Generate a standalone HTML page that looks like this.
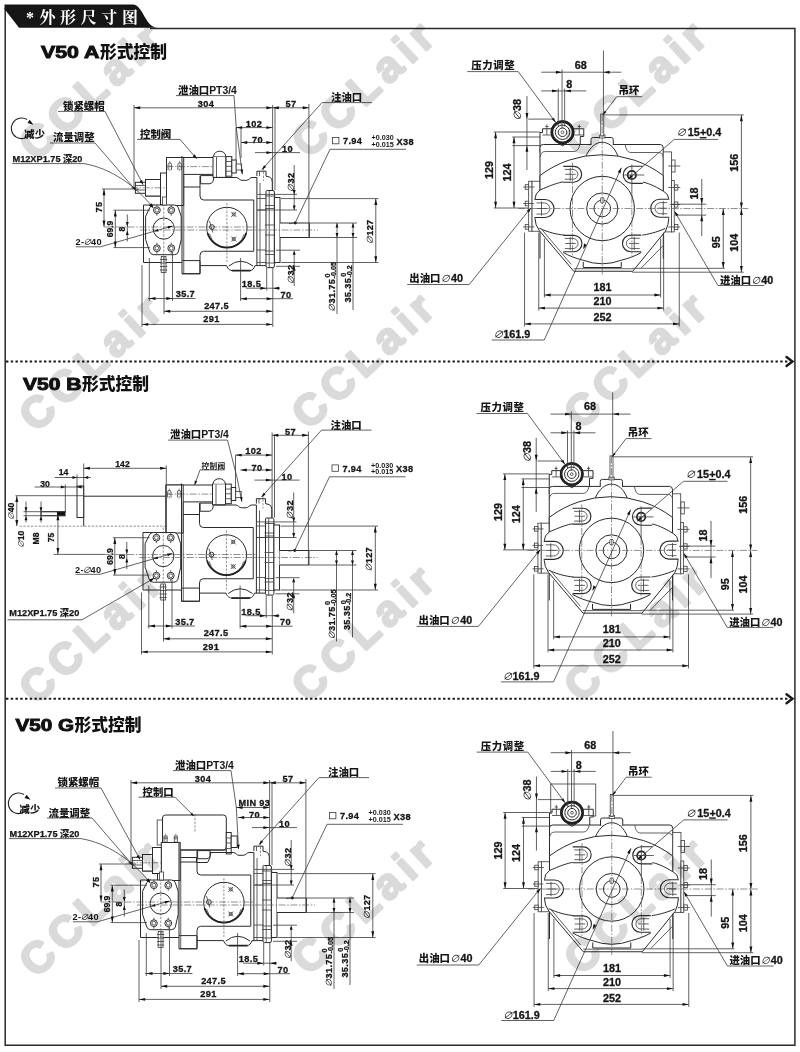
<!DOCTYPE html>
<html lang="zh"><head><meta charset="utf-8"><title>V50 外形尺寸图</title>
<style>
html,body{margin:0;padding:0;background:#fff}
body{width:800px;height:1052px;overflow:hidden}
svg{display:block}
svg text{font-family:"Liberation Sans","Noto Sans CJK SC",sans-serif}
.b{fill:none;stroke:#2a2a2a;stroke-width:1.5}
.tab{fill:#161616;stroke:none}
.hd{font-family:"Liberation Serif","Noto Serif CJK SC",serif;font-size:16px;font-weight:700;fill:#fff}
.wm{font-size:43.5px;font-weight:700;fill:#dadada;stroke:#dadada;stroke-width:2.4;stroke-linejoin:round;letter-spacing:6.4px;mix-blend-mode:multiply}
.dot{stroke:#1a1a1a;stroke-width:1.9;stroke-dasharray:2.4 2.35;fill:none}
.chev{fill:none;stroke:#1a1a1a;stroke-width:2.4;stroke-linecap:round;stroke-linejoin:miter}
.tt{font-size:16px;font-weight:700;fill:#111}
.tl{font-weight:700;stroke:#111;stroke-width:0.9}
.tc{font-family:"Liberation Sans","Noto Sans CJK SC",sans-serif;font-weight:900;font-size:16.8px}
.o{fill:none;stroke:#2b2b2b;stroke-width:1}
.ow{fill:#fff;stroke:#2b2b2b;stroke-width:1}
.k{fill:none;stroke:#222;stroke-width:2.6}
.t{fill:none;stroke:#444;stroke-width:0.85}
.tw{fill:#fff;stroke:#444;stroke-width:0.85}
.d{fill:none;stroke:#3a3a3a;stroke-width:0.8}
.c{fill:none;stroke:#555;stroke-width:0.65;stroke-dasharray:7 1.6 1.6 1.6}
.hid{fill:none;stroke:#555;stroke-width:0.65;stroke-dasharray:2.4 1.4}
.a{fill:#111;stroke:none}
.n{font-size:10.8px;font-weight:700;fill:#161616;stroke:#161616;stroke-width:.3px}
.ns{font-size:8.6px;font-weight:700;fill:#161616;stroke:#161616;stroke-width:.25px}
.z{font-size:10.4px;font-weight:900;fill:#161616}
.zs{font-size:8.4px;font-weight:700;fill:#161616}
.tol{font-size:7.2px;letter-spacing:0;font-weight:700;fill:#161616}
.k2{fill:#fff;stroke:#222;stroke-width:1.7}
.k1{fill:none;stroke:#222;stroke-width:1.7}
.rot{fill:none;stroke:#222;stroke-width:1.1}
.ni{font-weight:400;font-style:italic;stroke:none;font-size:.92em}
.m{font-size:9.2px;font-weight:700;fill:#161616;stroke:#161616;stroke-width:.25px}
.zss{font-size:7.7px;letter-spacing:.3px;font-weight:700;fill:#161616}
.er{stroke:#fff;stroke-width:2.2;fill:none}
.os{fill:#fff;stroke:#2b2b2b;stroke-width:1.15}
.n2{font-size:9.8px;font-weight:700;fill:#161616}
.sv .n{font-size:9.2px;letter-spacing:.35px}
.sv .n2{font-size:9.2px;letter-spacing:.3px}

</style></head>
<body>
<svg width="800" height="1052" viewBox="0 0 800 1052">
<rect width="800" height="1052" fill="#fff"/>
<path class="b" d="M5.2,8 V1045.3 H794.9 V28.5 H150"/>
<path class="tab" d="M4.5,4.5 H133 C143,4.5 145,27.8 158,27.8 H19 L4.5,9 Z"/>
<text class="hd" x="26" y="23">*</text>
<text class="hd" x="39.5" y="23">外</text>
<text class="hd" x="60.1" y="23">形</text>
<text class="hd" x="80.7" y="23">尺</text>
<text class="hd" x="101.3" y="23">寸</text>
<text class="hd" x="121.9" y="23">图</text>
<line class="dot" x1="6" y1="361.5" x2="790" y2="361.5"/>
<polyline class="chev" points="786.5,357 792.5,361.5 786.5,366"/>
<line class="dot" x1="6" y1="698.8" x2="790" y2="698.8"/>
<polyline class="chev" points="786.5,694.3 792.5,698.8 786.5,703.3"/>
<text class="tt" x="41" y="57.5"><tspan class="tl" textLength="58.5" lengthAdjust="spacingAndGlyphs">V50 A</tspan><tspan class="tc" dx="0.5">形式控制</tspan></text>
<text class="tt" x="23" y="390"><tspan class="tl" textLength="58.5" lengthAdjust="spacingAndGlyphs">V50 B</tspan><tspan class="tc" dx="0.5">形式控制</tspan></text>
<text class="tt" x="15.5" y="730.5"><tspan class="tl" textLength="58.5" lengthAdjust="spacingAndGlyphs">V50 G</tspan><tspan class="tc" dx="0.5">形式控制</tspan></text>
<g transform="translate(0 0)">
<path class="ow" d="M540,152.5 V132.5 H542.5 V128.75 H583.75 V136.5 H580.25 V146.5"/>
<line class="t" x1="546.85" y1="124.5" x2="546.85" y2="135"/>
<line class="t" x1="545.25" y1="126.5" x2="548.45" y2="126.5"/>
<line class="t" x1="579.25" y1="124.5" x2="579.25" y2="135"/>
<line class="t" x1="577.65" y1="126.5" x2="580.85" y2="126.5"/>
<line class="t" x1="542.5" y1="135" x2="551.25" y2="135"/>
<line class="t" x1="574.25" y1="135" x2="583.75" y2="135"/>
<path class="ow" d="M540,258.5 V147.5 Q540,144.5 543.25,144.5 H660.25 Q663.25,144.5 663.25,148 V258.5"/>
<path class="t" d="M540,157 Q540.75,151.5 545.25,151.5 H574.25 Q578.25,151.3 579.75,144.7"/>
<path class="t" d="M663.25,157 Q662.75,152.5 658.25,152.5 H630.25 Q626.25,152 625.25,144.7"/>
<path class="ow" d="M591,145 V139.5 Q591,137.5 593.25,137.5 H611.25 Q613.25,137.5 613.25,139.5 V145"/>
<path class="ow" d="M585.75,156.5 C590.25,146.5 596.25,142.25 602.25,142.25 C608.25,142.25 614.25,146.5 618.15,156.5 Z"/>
<rect class="tw" x="599.65" y="135" width="5.3" height="3"/>
<rect class="tw" x="600.75" y="114" width="3" height="22"/>
<rect class="tw" x="531.85" y="181.25" width="8.2" height="50"/>
<rect class="tw" x="528.65" y="181.25" width="3.2" height="50"/>
<rect class="tw" x="525.25" y="184.7" width="3.4" height="4.6"/>
<line class="t" x1="523.25" y1="187" x2="534.25" y2="187"/>
<rect class="tw" x="525.25" y="201.2" width="3.4" height="4.6"/>
<line class="t" x1="523.25" y1="203.5" x2="534.25" y2="203.5"/>
<rect class="tw" x="525.25" y="224.6" width="3.4" height="4.6"/>
<line class="t" x1="523.25" y1="226.9" x2="534.25" y2="226.9"/>
<rect class="tw" x="663.25" y="151.9" width="8.2" height="80"/>
<rect class="tw" x="671.45" y="180.5" width="2.8" height="51.4"/>
<rect class="tw" x="671.65" y="160" width="3.4" height="12"/>
<line class="t" x1="668.25" y1="166" x2="680.25" y2="166"/>
<rect class="tw" x="674.45" y="184.9" width="3.4" height="5.2"/>
<line class="t" x1="668.25" y1="187.5" x2="680.25" y2="187.5"/>
<rect class="tw" x="674.45" y="201.9" width="3.4" height="5.2"/>
<line class="t" x1="668.25" y1="204.5" x2="680.25" y2="204.5"/>
<rect class="tw" x="674.45" y="224.4" width="3.4" height="5.2"/>
<line class="t" x1="668.25" y1="227" x2="680.25" y2="227"/>
<path class="ow" d="M540,175.5 A102,102 0 0 1 663.25,175.5 L663.25,191 Q668.75,194 668.75,199 V218.5 Q668.75,224.5 665.55,231 L632.75,271.25 H573.75 L539.25,230.5 Q535,224.5 535,218.5 V199 Q535,193.5 540,190 Z"/>
<line class="er" x1="535" y1="200.1" x2="535" y2="216.9"/>
<line class="er" x1="668.75" y1="199.8" x2="668.75" y2="216.6"/>
<line class="t" x1="541.85" y1="229.5" x2="571.25" y2="264.5"/>
<line class="t" x1="663.25" y1="245.5" x2="641.25" y2="268"/>
<line class="t" x1="573.75" y1="268.7" x2="632.75" y2="268.7"/>
<path class="o" d="M540,190 C550.25,185.5 558.25,182.5 564.25,181.7"/>
<path class="o" d="M663.25,191.2 C654.25,185.5 646.25,182.5 642.25,182"/>
<path class="o" d="M539.25,228.1 C548.25,232.5 557.25,234.5 564.25,235.1"/>
<path class="o" d="M665.25,228.5 C656.25,232.5 647.25,234.5 642.25,235.1"/>
<path class="o" d="M563.25,252.5 C569.25,256 576.25,258.5 582.5,260 A55.2,55.2 0 0 0 622,260 C628.25,258.5 635.25,256 641.25,252.5"/>
<path class="o" d="M583.25,262 V267.5 H621.25 V262"/>
<circle class="o" cx="602.25" cy="208.5" r="32.2"/>
<circle class="o" cx="602.25" cy="208.5" r="15.6"/>
<circle class="o" cx="602.25" cy="208.5" r="8.3"/>
<rect class="tw" x="600.55" y="197.5" width="3.4" height="5.5" rx="1.2"/>
<path class="os" d="M535,199.5 H545 A9,9 0 0 1 545,217.5 H535"/>
<path class="t" d="M536.5,202.92 H544.2 A5.58,5.58 0 0 1 544.2,214.08 H536.5"/>
<line class="t" x1="537" y1="208.5" x2="547" y2="208.5"/>
<line class="t" x1="541.5" y1="201.42" x2="541.5" y2="215.58"/>
<path class="os" d="M668.75,199.2 H659.75 A9,9 0 0 0 659.75,217.2 H668.75"/>
<path class="t" d="M667.25,202.62 H660.55 A5.58,5.58 0 0 0 660.55,213.78 H667.25"/>
<line class="t" x1="666.75" y1="208.2" x2="657.75" y2="208.2"/>
<line class="t" x1="663.25" y1="201.12" x2="663.25" y2="215.28"/>
<path class="os" d="M563.25,166.4 H573.75 A7.9,7.9 0 0 1 573.75,182.2 H563.25"/>
<path class="t" d="M564.75,169.4 H572.95 A4.9,4.9 0 0 1 572.95,179.2 H564.75"/>
<line class="t" x1="565.25" y1="174.3" x2="575.75" y2="174.3"/>
<line class="t" x1="570.25" y1="167.9" x2="570.25" y2="180.7"/>
<path class="os" d="M563.25,235.3 H573.75 A8.2,8.2 0 0 1 573.75,251.7 H563.25"/>
<path class="t" d="M564.75,238.42 H572.95 A5.08,5.08 0 0 1 572.95,248.58 H564.75"/>
<line class="t" x1="565.25" y1="243.5" x2="575.75" y2="243.5"/>
<line class="t" x1="570.25" y1="236.92" x2="570.25" y2="250.08"/>
<path class="os" d="M641.25,235.1 H630.75 A8.3,8.3 0 0 0 630.75,251.7 H641.25"/>
<path class="t" d="M639.75,238.25 H631.55 A5.15,5.15 0 0 0 631.55,248.55 H639.75"/>
<line class="t" x1="639.25" y1="243.4" x2="628.75" y2="243.4"/>
<line class="t" x1="634.25" y1="236.75" x2="634.25" y2="250.05"/>
<path class="os" d="M642.85,166.2 H631.85 A8.6,8.6 0 0 0 631.85,183.4 H642.85"/>
<circle class="k2" cx="631.85" cy="175" r="4.2"/>
<line class="t" x1="624.25" y1="175" x2="644.25" y2="175"/>
<line class="t" x1="631.85" y1="164.5" x2="631.85" y2="196.5"/>
<line class="c" x1="572.5" y1="162.5" x2="572.5" y2="256.5"/>
<line class="c" x1="631.85" y1="196.5" x2="631.85" y2="256.5"/>
<circle class="ow" cx="562.5" cy="132.25" r="11.4"/>
<circle class="k" cx="562.5" cy="132.25" r="10.6"/>
<circle class="o" cx="562.5" cy="132.25" r="7.2"/>
<circle class="o" cx="562.5" cy="132.25" r="4.3"/>
<circle class="t" cx="562.5" cy="132.25" r="1.4"/>
<polyline class="o" points="558.5,143.45 562.5,145.85 566.5,143.45"/>
<line class="c" x1="518.25" y1="208.5" x2="748.25" y2="208.5"/>
<line class="c" x1="602.25" y1="114.5" x2="602.25" y2="274.5"/>
<line class="d" x1="603.45" y1="50.5" x2="603.45" y2="114"/>
<line class="d" x1="541.25" y1="72.2" x2="621.25" y2="72.2"/>
<polygon class="a" points="562.05,72.2 555.85,73.65 555.85,70.75"/>
<polygon class="a" points="603.45,72.2 609.65,70.75 609.65,73.65"/>
<text class="n" x="580.75" y="68.5" text-anchor="middle">68</text>
<line class="d" x1="562.05" y1="69.5" x2="562.05" y2="128.5"/>
<line class="d" x1="541.25" y1="90.9" x2="586.25" y2="90.9"/>
<polygon class="a" points="558.25,90.9 552.05,92.35 552.05,89.45"/>
<polygon class="a" points="564.65,90.9 570.85,89.45 570.85,92.35"/>
<text class="n" x="569.25" y="88.2" text-anchor="middle">8</text>
<line class="d" x1="558.25" y1="88.5" x2="558.25" y2="126.5"/>
<line class="d" x1="564.65" y1="88.5" x2="564.65" y2="126.5"/>
<text class="z" x="618.55" y="94.2">吊环</text>
<polyline class="d" points="642.25,96.7 616.75,96.7 602.85,115"/>
<polygon class="a" points="602.85,115 604.7,110.75 606.45,112.08"/>
<line class="d" x1="603.75" y1="114.9" x2="743.75" y2="114.9"/>
<line class="d" x1="741.4" y1="115" x2="741.4" y2="208.7"/>
<polygon class="a" points="741.4,115 742.85,121.2 739.95,121.2"/>
<polygon class="a" points="741.4,208.7 739.95,202.5 742.85,202.5"/>
<text class="n" x="737.85" y="162.8" text-anchor="middle" transform="rotate(-90 737.85 162.8)">156</text>
<line class="d" x1="741.4" y1="208.8" x2="741.4" y2="272.2"/>
<polygon class="a" points="741.4,208.8 742.85,215 739.95,215"/>
<polygon class="a" points="741.4,272.2 739.95,266 742.85,266"/>
<text class="n" x="737.85" y="242.7" text-anchor="middle" transform="rotate(-90 737.85 242.7)">104</text>
<line class="d" x1="723.25" y1="208.8" x2="723.25" y2="268.3"/>
<polygon class="a" points="723.25,208.8 724.7,215 721.8,215"/>
<polygon class="a" points="723.25,268.3 721.8,262.1 724.7,262.1"/>
<text class="n" x="719.75" y="242.3" text-anchor="middle" transform="rotate(-90 719.75 242.3)">95</text>
<line class="d" x1="632.25" y1="268.3" x2="724.75" y2="268.3"/>
<line class="d" x1="632.25" y1="272.2" x2="743.75" y2="272.2"/>
<line class="d" x1="701.75" y1="179" x2="701.75" y2="236"/>
<polygon class="a" points="701.75,204.2 700.3,198 703.2,198"/>
<polygon class="a" points="701.75,215.1 703.2,221.3 700.3,221.3"/>
<line class="d" x1="672.25" y1="204.2" x2="706.25" y2="204.2"/>
<line class="d" x1="676.25" y1="215.1" x2="706.25" y2="215.1"/>
<text class="n" x="697.85" y="193.6" text-anchor="middle" transform="rotate(-90 697.85 193.6)">18</text>
<text class="n" x="676.25" y="136.1"><tspan class="ni">∅</tspan><tspan dx="1.5">15</tspan><tspan dx="0.3" style="text-decoration:underline">+</tspan>0.4</text>
<polyline class="d" points="718.25,139.4 674.25,139.4 627.75,179.5"/>
<polygon class="a" points="628.05,179.2 630.86,174.8 632.82,177.07"/>
<text class="z" x="719.95" y="283.8">进油口<tspan class="n ni">∅</tspan><tspan class="n" dx="0.5">40</tspan></text>
<polyline class="d" points="764.25,285.5 717.95,285.5 674.75,211.7"/>
<polygon class="a" points="674.55,211.3 678.37,214.86 675.78,216.37"/>
<text class="z" x="409.25" y="281.9">出油口<tspan class="n ni">∅</tspan><tspan class="n" dx="1">40</tspan></text>
<polyline class="d" points="407.25,284.5 469.25,284.5 530.75,208"/>
<polygon class="a" points="531.05,207.7 529.08,212.54 526.75,210.66"/>
<text class="z" x="471.25" y="69.3" style="letter-spacing:.6px">压力调整</text>
<polyline class="d" points="467.25,71.6 518.25,71.6 555.75,122.5"/>
<polygon class="a" points="555.75,122.5 551.66,119.3 553.91,117.64"/>
<line class="d" x1="526.95" y1="96" x2="526.95" y2="170"/>
<polygon class="a" points="526.95,119.1 525.5,112.9 528.4,112.9"/>
<polygon class="a" points="526.95,145.6 528.4,151.8 525.5,151.8"/>
<line class="d" x1="528.25" y1="119.1" x2="554.25" y2="119.1"/>
<line class="d" x1="512.25" y1="145.6" x2="540.25" y2="145.6"/>
<text class="n" x="521.25" y="110" text-anchor="middle" transform="rotate(-90 521.25 110)"><tspan class="ni">∅</tspan>38</text>
<line class="d" x1="495.6" y1="132" x2="495.6" y2="208"/>
<polygon class="a" points="495.6,132 497.05,138.2 494.15,138.2"/>
<polygon class="a" points="495.6,208 494.15,201.8 497.05,201.8"/>
<text class="n" x="492.65" y="170" text-anchor="middle" transform="rotate(-90 492.65 170)">129</text>
<line class="d" x1="514" y1="137" x2="514" y2="208"/>
<polygon class="a" points="514,137 515.45,143.2 512.55,143.2"/>
<polygon class="a" points="514,208 512.55,201.8 515.45,201.8"/>
<text class="n" x="510.65" y="172.4" text-anchor="middle" transform="rotate(-90 510.65 172.4)">124</text>
<line class="d" x1="493.75" y1="132" x2="540.25" y2="132"/>
<line class="d" x1="512.25" y1="137" x2="540.25" y2="137"/>
<line class="d" x1="493.75" y1="208" x2="528.25" y2="208"/>
<line class="d" x1="544.4" y1="295" x2="660.6" y2="295"/>
<polygon class="a" points="544.4,295 550.6,293.55 550.6,296.45"/>
<polygon class="a" points="660.6,295 654.4,296.45 654.4,293.55"/>
<text class="n" x="602.45" y="291.2" text-anchor="middle">181</text>
<line class="d" x1="538.75" y1="308.1" x2="663.65" y2="308.1"/>
<polygon class="a" points="538.75,308.1 544.95,306.65 544.95,309.55"/>
<polygon class="a" points="663.65,308.1 657.45,309.55 657.45,306.65"/>
<text class="n" x="602.45" y="305.1" text-anchor="middle">210</text>
<line class="d" x1="524.55" y1="323.9" x2="679.25" y2="323.9"/>
<polygon class="a" points="524.55,323.9 530.75,322.45 530.75,325.35"/>
<polygon class="a" points="679.25,323.9 673.05,325.35 673.05,322.45"/>
<text class="n" x="602.45" y="321.2" text-anchor="middle">252</text>
<line class="d" x1="544.4" y1="238.5" x2="544.4" y2="297.5"/>
<line class="d" x1="660.6" y1="238.5" x2="660.6" y2="297.5"/>
<line class="d" x1="538.75" y1="232.5" x2="538.75" y2="310.5"/>
<line class="d" x1="663.65" y1="232.5" x2="663.65" y2="310.5"/>
<line class="d" x1="524.55" y1="232.5" x2="524.55" y2="326.5"/>
<line class="d" x1="679.25" y1="232.5" x2="679.25" y2="326.5"/>
<text class="n" x="493.25" y="338.2"><tspan class="ni">∅</tspan>161.9</text>
<polyline class="d" points="491.75,340 544.25,340 621.41,167.78"/>
<polygon class="a" points="621.41,167.78 620.43,173.4 617.71,172.12"/>
<polygon class="a" points="583.09,249.22 584.07,243.6 586.79,244.88"/>
</g>
<g transform="translate(9.25 341.9)">
<path class="ow" d="M540,152.5 V132.5 H542.5 V128.75 H583.75 V136.5 H580.25 V146.5"/>
<line class="t" x1="546.85" y1="124.5" x2="546.85" y2="135"/>
<line class="t" x1="545.25" y1="126.5" x2="548.45" y2="126.5"/>
<line class="t" x1="579.25" y1="124.5" x2="579.25" y2="135"/>
<line class="t" x1="577.65" y1="126.5" x2="580.85" y2="126.5"/>
<line class="t" x1="542.5" y1="135" x2="551.25" y2="135"/>
<line class="t" x1="574.25" y1="135" x2="583.75" y2="135"/>
<path class="ow" d="M540,258.5 V147.5 Q540,144.5 543.25,144.5 H660.25 Q663.25,144.5 663.25,148 V258.5"/>
<path class="t" d="M540,157 Q540.75,151.5 545.25,151.5 H574.25 Q578.25,151.3 579.75,144.7"/>
<path class="t" d="M663.25,157 Q662.75,152.5 658.25,152.5 H630.25 Q626.25,152 625.25,144.7"/>
<path class="ow" d="M591,145 V139.5 Q591,137.5 593.25,137.5 H611.25 Q613.25,137.5 613.25,139.5 V145"/>
<path class="ow" d="M585.75,156.5 C590.25,146.5 596.25,142.25 602.25,142.25 C608.25,142.25 614.25,146.5 618.15,156.5 Z"/>
<rect class="tw" x="599.65" y="135" width="5.3" height="3"/>
<rect class="tw" x="600.75" y="114" width="3" height="22"/>
<rect class="tw" x="531.85" y="181.25" width="8.2" height="50"/>
<rect class="tw" x="528.65" y="181.25" width="3.2" height="50"/>
<rect class="tw" x="525.25" y="184.7" width="3.4" height="4.6"/>
<line class="t" x1="523.25" y1="187" x2="534.25" y2="187"/>
<rect class="tw" x="525.25" y="201.2" width="3.4" height="4.6"/>
<line class="t" x1="523.25" y1="203.5" x2="534.25" y2="203.5"/>
<rect class="tw" x="525.25" y="224.6" width="3.4" height="4.6"/>
<line class="t" x1="523.25" y1="226.9" x2="534.25" y2="226.9"/>
<rect class="tw" x="663.25" y="151.9" width="8.2" height="80"/>
<rect class="tw" x="671.45" y="180.5" width="2.8" height="51.4"/>
<rect class="tw" x="671.65" y="160" width="3.4" height="12"/>
<line class="t" x1="668.25" y1="166" x2="680.25" y2="166"/>
<rect class="tw" x="674.45" y="184.9" width="3.4" height="5.2"/>
<line class="t" x1="668.25" y1="187.5" x2="680.25" y2="187.5"/>
<rect class="tw" x="674.45" y="201.9" width="3.4" height="5.2"/>
<line class="t" x1="668.25" y1="204.5" x2="680.25" y2="204.5"/>
<rect class="tw" x="674.45" y="224.4" width="3.4" height="5.2"/>
<line class="t" x1="668.25" y1="227" x2="680.25" y2="227"/>
<path class="ow" d="M540,175.5 A102,102 0 0 1 663.25,175.5 L663.25,191 Q668.75,194 668.75,199 V218.5 Q668.75,224.5 665.55,231 L632.75,271.25 H573.75 L539.25,230.5 Q535,224.5 535,218.5 V199 Q535,193.5 540,190 Z"/>
<line class="er" x1="535" y1="200.1" x2="535" y2="216.9"/>
<line class="er" x1="668.75" y1="199.8" x2="668.75" y2="216.6"/>
<line class="t" x1="541.85" y1="229.5" x2="571.25" y2="264.5"/>
<line class="t" x1="663.25" y1="245.5" x2="641.25" y2="268"/>
<line class="t" x1="573.75" y1="268.7" x2="632.75" y2="268.7"/>
<path class="o" d="M540,190 C550.25,185.5 558.25,182.5 564.25,181.7"/>
<path class="o" d="M663.25,191.2 C654.25,185.5 646.25,182.5 642.25,182"/>
<path class="o" d="M539.25,228.1 C548.25,232.5 557.25,234.5 564.25,235.1"/>
<path class="o" d="M665.25,228.5 C656.25,232.5 647.25,234.5 642.25,235.1"/>
<path class="o" d="M563.25,252.5 C569.25,256 576.25,258.5 582.5,260 A55.2,55.2 0 0 0 622,260 C628.25,258.5 635.25,256 641.25,252.5"/>
<path class="o" d="M583.25,262 V267.5 H621.25 V262"/>
<circle class="o" cx="602.25" cy="208.5" r="32.2"/>
<circle class="o" cx="602.25" cy="208.5" r="15.6"/>
<circle class="o" cx="602.25" cy="208.5" r="8.3"/>
<rect class="tw" x="600.55" y="197.5" width="3.4" height="5.5" rx="1.2"/>
<path class="os" d="M535,199.5 H545 A9,9 0 0 1 545,217.5 H535"/>
<path class="t" d="M536.5,202.92 H544.2 A5.58,5.58 0 0 1 544.2,214.08 H536.5"/>
<line class="t" x1="537" y1="208.5" x2="547" y2="208.5"/>
<line class="t" x1="541.5" y1="201.42" x2="541.5" y2="215.58"/>
<path class="os" d="M668.75,199.2 H659.75 A9,9 0 0 0 659.75,217.2 H668.75"/>
<path class="t" d="M667.25,202.62 H660.55 A5.58,5.58 0 0 0 660.55,213.78 H667.25"/>
<line class="t" x1="666.75" y1="208.2" x2="657.75" y2="208.2"/>
<line class="t" x1="663.25" y1="201.12" x2="663.25" y2="215.28"/>
<path class="os" d="M563.25,166.4 H573.75 A7.9,7.9 0 0 1 573.75,182.2 H563.25"/>
<path class="t" d="M564.75,169.4 H572.95 A4.9,4.9 0 0 1 572.95,179.2 H564.75"/>
<line class="t" x1="565.25" y1="174.3" x2="575.75" y2="174.3"/>
<line class="t" x1="570.25" y1="167.9" x2="570.25" y2="180.7"/>
<path class="os" d="M563.25,235.3 H573.75 A8.2,8.2 0 0 1 573.75,251.7 H563.25"/>
<path class="t" d="M564.75,238.42 H572.95 A5.08,5.08 0 0 1 572.95,248.58 H564.75"/>
<line class="t" x1="565.25" y1="243.5" x2="575.75" y2="243.5"/>
<line class="t" x1="570.25" y1="236.92" x2="570.25" y2="250.08"/>
<path class="os" d="M641.25,235.1 H630.75 A8.3,8.3 0 0 0 630.75,251.7 H641.25"/>
<path class="t" d="M639.75,238.25 H631.55 A5.15,5.15 0 0 0 631.55,248.55 H639.75"/>
<line class="t" x1="639.25" y1="243.4" x2="628.75" y2="243.4"/>
<line class="t" x1="634.25" y1="236.75" x2="634.25" y2="250.05"/>
<path class="os" d="M642.85,166.2 H631.85 A8.6,8.6 0 0 0 631.85,183.4 H642.85"/>
<circle class="k2" cx="631.85" cy="175" r="4.2"/>
<line class="t" x1="624.25" y1="175" x2="644.25" y2="175"/>
<line class="t" x1="631.85" y1="164.5" x2="631.85" y2="196.5"/>
<line class="c" x1="572.5" y1="162.5" x2="572.5" y2="256.5"/>
<line class="c" x1="631.85" y1="196.5" x2="631.85" y2="256.5"/>
<circle class="ow" cx="562.5" cy="132.25" r="11.4"/>
<circle class="k" cx="562.5" cy="132.25" r="10.6"/>
<circle class="o" cx="562.5" cy="132.25" r="7.2"/>
<circle class="o" cx="562.5" cy="132.25" r="4.3"/>
<circle class="t" cx="562.5" cy="132.25" r="1.4"/>
<polyline class="o" points="558.5,143.45 562.5,145.85 566.5,143.45"/>
<line class="c" x1="518.25" y1="208.5" x2="748.25" y2="208.5"/>
<line class="c" x1="602.25" y1="114.5" x2="602.25" y2="274.5"/>
<line class="d" x1="603.45" y1="50.5" x2="603.45" y2="114"/>
<line class="d" x1="541.25" y1="72.2" x2="621.25" y2="72.2"/>
<polygon class="a" points="562.05,72.2 555.85,73.65 555.85,70.75"/>
<polygon class="a" points="603.45,72.2 609.65,70.75 609.65,73.65"/>
<text class="n" x="580.75" y="68.5" text-anchor="middle">68</text>
<line class="d" x1="562.05" y1="69.5" x2="562.05" y2="128.5"/>
<line class="d" x1="541.25" y1="90.9" x2="586.25" y2="90.9"/>
<polygon class="a" points="558.25,90.9 552.05,92.35 552.05,89.45"/>
<polygon class="a" points="564.65,90.9 570.85,89.45 570.85,92.35"/>
<text class="n" x="569.25" y="88.2" text-anchor="middle">8</text>
<line class="d" x1="558.25" y1="88.5" x2="558.25" y2="126.5"/>
<line class="d" x1="564.65" y1="88.5" x2="564.65" y2="126.5"/>
<text class="z" x="618.55" y="94.2">吊环</text>
<polyline class="d" points="642.25,96.7 616.75,96.7 602.85,115"/>
<polygon class="a" points="602.85,115 604.7,110.75 606.45,112.08"/>
<line class="d" x1="603.75" y1="114.9" x2="743.75" y2="114.9"/>
<line class="d" x1="741.4" y1="115" x2="741.4" y2="208.7"/>
<polygon class="a" points="741.4,115 742.85,121.2 739.95,121.2"/>
<polygon class="a" points="741.4,208.7 739.95,202.5 742.85,202.5"/>
<text class="n" x="737.85" y="162.8" text-anchor="middle" transform="rotate(-90 737.85 162.8)">156</text>
<line class="d" x1="741.4" y1="208.8" x2="741.4" y2="272.2"/>
<polygon class="a" points="741.4,208.8 742.85,215 739.95,215"/>
<polygon class="a" points="741.4,272.2 739.95,266 742.85,266"/>
<text class="n" x="737.85" y="242.7" text-anchor="middle" transform="rotate(-90 737.85 242.7)">104</text>
<line class="d" x1="723.25" y1="208.8" x2="723.25" y2="268.3"/>
<polygon class="a" points="723.25,208.8 724.7,215 721.8,215"/>
<polygon class="a" points="723.25,268.3 721.8,262.1 724.7,262.1"/>
<text class="n" x="719.75" y="242.3" text-anchor="middle" transform="rotate(-90 719.75 242.3)">95</text>
<line class="d" x1="632.25" y1="268.3" x2="724.75" y2="268.3"/>
<line class="d" x1="632.25" y1="272.2" x2="743.75" y2="272.2"/>
<line class="d" x1="701.75" y1="179" x2="701.75" y2="236"/>
<polygon class="a" points="701.75,204.2 700.3,198 703.2,198"/>
<polygon class="a" points="701.75,215.1 703.2,221.3 700.3,221.3"/>
<line class="d" x1="672.25" y1="204.2" x2="706.25" y2="204.2"/>
<line class="d" x1="676.25" y1="215.1" x2="706.25" y2="215.1"/>
<text class="n" x="697.85" y="193.6" text-anchor="middle" transform="rotate(-90 697.85 193.6)">18</text>
<text class="n" x="676.25" y="136.1"><tspan class="ni">∅</tspan><tspan dx="1.5">15</tspan><tspan dx="0.3" style="text-decoration:underline">+</tspan>0.4</text>
<polyline class="d" points="718.25,139.4 674.25,139.4 627.75,179.5"/>
<polygon class="a" points="628.05,179.2 630.86,174.8 632.82,177.07"/>
<text class="z" x="719.95" y="283.8">进油口<tspan class="n ni">∅</tspan><tspan class="n" dx="0.5">40</tspan></text>
<polyline class="d" points="764.25,285.5 717.95,285.5 674.75,211.7"/>
<polygon class="a" points="674.55,211.3 678.37,214.86 675.78,216.37"/>
<text class="z" x="409.25" y="281.9">出油口<tspan class="n ni">∅</tspan><tspan class="n" dx="1">40</tspan></text>
<polyline class="d" points="407.25,284.5 469.25,284.5 530.75,208"/>
<polygon class="a" points="531.05,207.7 529.08,212.54 526.75,210.66"/>
<text class="z" x="471.25" y="69.3" style="letter-spacing:.6px">压力调整</text>
<polyline class="d" points="467.25,71.6 518.25,71.6 555.75,122.5"/>
<polygon class="a" points="555.75,122.5 551.66,119.3 553.91,117.64"/>
<line class="d" x1="526.95" y1="96" x2="526.95" y2="170"/>
<polygon class="a" points="526.95,119.1 525.5,112.9 528.4,112.9"/>
<polygon class="a" points="526.95,145.6 528.4,151.8 525.5,151.8"/>
<line class="d" x1="528.25" y1="119.1" x2="554.25" y2="119.1"/>
<line class="d" x1="512.25" y1="145.6" x2="540.25" y2="145.6"/>
<text class="n" x="521.25" y="110" text-anchor="middle" transform="rotate(-90 521.25 110)"><tspan class="ni">∅</tspan>38</text>
<line class="d" x1="495.6" y1="132" x2="495.6" y2="208"/>
<polygon class="a" points="495.6,132 497.05,138.2 494.15,138.2"/>
<polygon class="a" points="495.6,208 494.15,201.8 497.05,201.8"/>
<text class="n" x="492.65" y="170" text-anchor="middle" transform="rotate(-90 492.65 170)">129</text>
<line class="d" x1="514" y1="137" x2="514" y2="208"/>
<polygon class="a" points="514,137 515.45,143.2 512.55,143.2"/>
<polygon class="a" points="514,208 512.55,201.8 515.45,201.8"/>
<text class="n" x="510.65" y="172.4" text-anchor="middle" transform="rotate(-90 510.65 172.4)">124</text>
<line class="d" x1="493.75" y1="132" x2="540.25" y2="132"/>
<line class="d" x1="512.25" y1="137" x2="540.25" y2="137"/>
<line class="d" x1="493.75" y1="208" x2="528.25" y2="208"/>
<line class="d" x1="544.4" y1="295" x2="660.6" y2="295"/>
<polygon class="a" points="544.4,295 550.6,293.55 550.6,296.45"/>
<polygon class="a" points="660.6,295 654.4,296.45 654.4,293.55"/>
<text class="n" x="602.45" y="291.2" text-anchor="middle">181</text>
<line class="d" x1="538.75" y1="308.1" x2="663.65" y2="308.1"/>
<polygon class="a" points="538.75,308.1 544.95,306.65 544.95,309.55"/>
<polygon class="a" points="663.65,308.1 657.45,309.55 657.45,306.65"/>
<text class="n" x="602.45" y="305.1" text-anchor="middle">210</text>
<line class="d" x1="524.55" y1="323.9" x2="679.25" y2="323.9"/>
<polygon class="a" points="524.55,323.9 530.75,322.45 530.75,325.35"/>
<polygon class="a" points="679.25,323.9 673.05,325.35 673.05,322.45"/>
<text class="n" x="602.45" y="321.2" text-anchor="middle">252</text>
<line class="d" x1="544.4" y1="238.5" x2="544.4" y2="297.5"/>
<line class="d" x1="660.6" y1="238.5" x2="660.6" y2="297.5"/>
<line class="d" x1="538.75" y1="232.5" x2="538.75" y2="310.5"/>
<line class="d" x1="663.65" y1="232.5" x2="663.65" y2="310.5"/>
<line class="d" x1="524.55" y1="232.5" x2="524.55" y2="326.5"/>
<line class="d" x1="679.25" y1="232.5" x2="679.25" y2="326.5"/>
<text class="n" x="493.25" y="338.2"><tspan class="ni">∅</tspan>161.9</text>
<polyline class="d" points="491.75,340 544.25,340 621.41,167.78"/>
<polygon class="a" points="621.41,167.78 620.43,173.4 617.71,172.12"/>
<polygon class="a" points="583.09,249.22 584.07,243.6 586.79,244.88"/>
</g>
<g transform="translate(9.5 680.5)">
<rect class="tw" x="541.25" y="103.5" width="45" height="32"/>
<path class="ow" d="M540,152.5 V132.5 H542.5 V128.75 H583.75 V136.5 H580.25 V146.5"/>
<line class="t" x1="546.85" y1="124.5" x2="546.85" y2="135"/>
<line class="t" x1="545.25" y1="126.5" x2="548.45" y2="126.5"/>
<line class="t" x1="579.25" y1="124.5" x2="579.25" y2="135"/>
<line class="t" x1="577.65" y1="126.5" x2="580.85" y2="126.5"/>
<line class="t" x1="542.5" y1="135" x2="551.25" y2="135"/>
<line class="t" x1="574.25" y1="135" x2="583.75" y2="135"/>
<path class="ow" d="M540,258.5 V147.5 Q540,144.5 543.25,144.5 H660.25 Q663.25,144.5 663.25,148 V258.5"/>
<path class="t" d="M540,157 Q540.75,151.5 545.25,151.5 H574.25 Q578.25,151.3 579.75,144.7"/>
<path class="t" d="M663.25,157 Q662.75,152.5 658.25,152.5 H630.25 Q626.25,152 625.25,144.7"/>
<path class="ow" d="M591,145 V139.5 Q591,137.5 593.25,137.5 H611.25 Q613.25,137.5 613.25,139.5 V145"/>
<path class="ow" d="M585.75,156.5 C590.25,146.5 596.25,142.25 602.25,142.25 C608.25,142.25 614.25,146.5 618.15,156.5 Z"/>
<rect class="tw" x="599.65" y="135" width="5.3" height="3"/>
<rect class="tw" x="600.75" y="114" width="3" height="22"/>
<rect class="tw" x="531.85" y="181.25" width="8.2" height="50"/>
<rect class="tw" x="528.65" y="181.25" width="3.2" height="50"/>
<rect class="tw" x="525.25" y="184.7" width="3.4" height="4.6"/>
<line class="t" x1="523.25" y1="187" x2="534.25" y2="187"/>
<rect class="tw" x="525.25" y="201.2" width="3.4" height="4.6"/>
<line class="t" x1="523.25" y1="203.5" x2="534.25" y2="203.5"/>
<rect class="tw" x="525.25" y="224.6" width="3.4" height="4.6"/>
<line class="t" x1="523.25" y1="226.9" x2="534.25" y2="226.9"/>
<rect class="tw" x="663.25" y="151.9" width="8.2" height="80"/>
<rect class="tw" x="671.45" y="180.5" width="2.8" height="51.4"/>
<rect class="tw" x="671.65" y="160" width="3.4" height="12"/>
<line class="t" x1="668.25" y1="166" x2="680.25" y2="166"/>
<rect class="tw" x="674.45" y="184.9" width="3.4" height="5.2"/>
<line class="t" x1="668.25" y1="187.5" x2="680.25" y2="187.5"/>
<rect class="tw" x="674.45" y="201.9" width="3.4" height="5.2"/>
<line class="t" x1="668.25" y1="204.5" x2="680.25" y2="204.5"/>
<rect class="tw" x="674.45" y="224.4" width="3.4" height="5.2"/>
<line class="t" x1="668.25" y1="227" x2="680.25" y2="227"/>
<path class="ow" d="M540,175.5 A102,102 0 0 1 663.25,175.5 L663.25,191 Q668.75,194 668.75,199 V218.5 Q668.75,224.5 665.55,231 L632.75,271.25 H573.75 L539.25,230.5 Q535,224.5 535,218.5 V199 Q535,193.5 540,190 Z"/>
<line class="er" x1="535" y1="200.1" x2="535" y2="216.9"/>
<line class="er" x1="668.75" y1="199.8" x2="668.75" y2="216.6"/>
<line class="t" x1="541.85" y1="229.5" x2="571.25" y2="264.5"/>
<line class="t" x1="663.25" y1="245.5" x2="641.25" y2="268"/>
<line class="t" x1="573.75" y1="268.7" x2="632.75" y2="268.7"/>
<path class="o" d="M540,190 C550.25,185.5 558.25,182.5 564.25,181.7"/>
<path class="o" d="M663.25,191.2 C654.25,185.5 646.25,182.5 642.25,182"/>
<path class="o" d="M539.25,228.1 C548.25,232.5 557.25,234.5 564.25,235.1"/>
<path class="o" d="M665.25,228.5 C656.25,232.5 647.25,234.5 642.25,235.1"/>
<path class="o" d="M563.25,252.5 C569.25,256 576.25,258.5 582.5,260 A55.2,55.2 0 0 0 622,260 C628.25,258.5 635.25,256 641.25,252.5"/>
<path class="o" d="M583.25,262 V267.5 H621.25 V262"/>
<circle class="o" cx="602.25" cy="208.5" r="32.2"/>
<circle class="o" cx="602.25" cy="208.5" r="15.6"/>
<circle class="o" cx="602.25" cy="208.5" r="8.3"/>
<rect class="tw" x="600.55" y="197.5" width="3.4" height="5.5" rx="1.2"/>
<path class="os" d="M535,199.5 H545 A9,9 0 0 1 545,217.5 H535"/>
<path class="t" d="M536.5,202.92 H544.2 A5.58,5.58 0 0 1 544.2,214.08 H536.5"/>
<line class="t" x1="537" y1="208.5" x2="547" y2="208.5"/>
<line class="t" x1="541.5" y1="201.42" x2="541.5" y2="215.58"/>
<path class="os" d="M668.75,199.2 H659.75 A9,9 0 0 0 659.75,217.2 H668.75"/>
<path class="t" d="M667.25,202.62 H660.55 A5.58,5.58 0 0 0 660.55,213.78 H667.25"/>
<line class="t" x1="666.75" y1="208.2" x2="657.75" y2="208.2"/>
<line class="t" x1="663.25" y1="201.12" x2="663.25" y2="215.28"/>
<path class="os" d="M563.25,166.4 H573.75 A7.9,7.9 0 0 1 573.75,182.2 H563.25"/>
<path class="t" d="M564.75,169.4 H572.95 A4.9,4.9 0 0 1 572.95,179.2 H564.75"/>
<line class="t" x1="565.25" y1="174.3" x2="575.75" y2="174.3"/>
<line class="t" x1="570.25" y1="167.9" x2="570.25" y2="180.7"/>
<path class="os" d="M563.25,235.3 H573.75 A8.2,8.2 0 0 1 573.75,251.7 H563.25"/>
<path class="t" d="M564.75,238.42 H572.95 A5.08,5.08 0 0 1 572.95,248.58 H564.75"/>
<line class="t" x1="565.25" y1="243.5" x2="575.75" y2="243.5"/>
<line class="t" x1="570.25" y1="236.92" x2="570.25" y2="250.08"/>
<path class="os" d="M641.25,235.1 H630.75 A8.3,8.3 0 0 0 630.75,251.7 H641.25"/>
<path class="t" d="M639.75,238.25 H631.55 A5.15,5.15 0 0 0 631.55,248.55 H639.75"/>
<line class="t" x1="639.25" y1="243.4" x2="628.75" y2="243.4"/>
<line class="t" x1="634.25" y1="236.75" x2="634.25" y2="250.05"/>
<path class="os" d="M642.85,166.2 H631.85 A8.6,8.6 0 0 0 631.85,183.4 H642.85"/>
<circle class="k2" cx="631.85" cy="175" r="4.2"/>
<line class="t" x1="624.25" y1="175" x2="644.25" y2="175"/>
<line class="t" x1="631.85" y1="164.5" x2="631.85" y2="196.5"/>
<line class="c" x1="572.5" y1="162.5" x2="572.5" y2="256.5"/>
<line class="c" x1="631.85" y1="196.5" x2="631.85" y2="256.5"/>
<circle class="ow" cx="562.5" cy="132.25" r="11.4"/>
<circle class="k" cx="562.5" cy="132.25" r="10.6"/>
<circle class="o" cx="562.5" cy="132.25" r="7.2"/>
<circle class="o" cx="562.5" cy="132.25" r="4.3"/>
<circle class="t" cx="562.5" cy="132.25" r="1.4"/>
<polyline class="o" points="558.5,143.45 562.5,145.85 566.5,143.45"/>
<line class="c" x1="518.25" y1="208.5" x2="748.25" y2="208.5"/>
<line class="c" x1="602.25" y1="114.5" x2="602.25" y2="274.5"/>
<line class="d" x1="603.45" y1="50.5" x2="603.45" y2="114"/>
<line class="d" x1="541.25" y1="72.2" x2="621.25" y2="72.2"/>
<polygon class="a" points="562.05,72.2 555.85,73.65 555.85,70.75"/>
<polygon class="a" points="603.45,72.2 609.65,70.75 609.65,73.65"/>
<text class="n" x="580.75" y="68.5" text-anchor="middle">68</text>
<line class="d" x1="562.05" y1="69.5" x2="562.05" y2="128.5"/>
<line class="d" x1="541.25" y1="90.9" x2="586.25" y2="90.9"/>
<polygon class="a" points="558.25,90.9 552.05,92.35 552.05,89.45"/>
<polygon class="a" points="564.65,90.9 570.85,89.45 570.85,92.35"/>
<text class="n" x="569.25" y="88.2" text-anchor="middle">8</text>
<line class="d" x1="558.25" y1="88.5" x2="558.25" y2="126.5"/>
<line class="d" x1="564.65" y1="88.5" x2="564.65" y2="126.5"/>
<text class="z" x="618.55" y="94.2">吊环</text>
<polyline class="d" points="642.25,96.7 616.75,96.7 602.85,115"/>
<polygon class="a" points="602.85,115 604.7,110.75 606.45,112.08"/>
<line class="d" x1="603.75" y1="114.9" x2="743.75" y2="114.9"/>
<line class="d" x1="741.4" y1="115" x2="741.4" y2="208.7"/>
<polygon class="a" points="741.4,115 742.85,121.2 739.95,121.2"/>
<polygon class="a" points="741.4,208.7 739.95,202.5 742.85,202.5"/>
<text class="n" x="737.85" y="162.8" text-anchor="middle" transform="rotate(-90 737.85 162.8)">156</text>
<line class="d" x1="741.4" y1="208.8" x2="741.4" y2="272.2"/>
<polygon class="a" points="741.4,208.8 742.85,215 739.95,215"/>
<polygon class="a" points="741.4,272.2 739.95,266 742.85,266"/>
<text class="n" x="737.85" y="242.7" text-anchor="middle" transform="rotate(-90 737.85 242.7)">104</text>
<line class="d" x1="723.25" y1="208.8" x2="723.25" y2="268.3"/>
<polygon class="a" points="723.25,208.8 724.7,215 721.8,215"/>
<polygon class="a" points="723.25,268.3 721.8,262.1 724.7,262.1"/>
<text class="n" x="719.75" y="242.3" text-anchor="middle" transform="rotate(-90 719.75 242.3)">95</text>
<line class="d" x1="632.25" y1="268.3" x2="724.75" y2="268.3"/>
<line class="d" x1="632.25" y1="272.2" x2="743.75" y2="272.2"/>
<line class="d" x1="701.75" y1="179" x2="701.75" y2="236"/>
<polygon class="a" points="701.75,204.2 700.3,198 703.2,198"/>
<polygon class="a" points="701.75,215.1 703.2,221.3 700.3,221.3"/>
<line class="d" x1="672.25" y1="204.2" x2="706.25" y2="204.2"/>
<line class="d" x1="676.25" y1="215.1" x2="706.25" y2="215.1"/>
<text class="n" x="697.85" y="193.6" text-anchor="middle" transform="rotate(-90 697.85 193.6)">18</text>
<text class="n" x="676.25" y="136.1"><tspan class="ni">∅</tspan><tspan dx="1.5">15</tspan><tspan dx="0.3" style="text-decoration:underline">+</tspan>0.4</text>
<polyline class="d" points="718.25,139.4 674.25,139.4 627.75,179.5"/>
<polygon class="a" points="628.05,179.2 630.86,174.8 632.82,177.07"/>
<text class="z" x="719.95" y="283.8">进油口<tspan class="n ni">∅</tspan><tspan class="n" dx="0.5">40</tspan></text>
<polyline class="d" points="764.25,285.5 717.95,285.5 674.75,211.7"/>
<polygon class="a" points="674.55,211.3 678.37,214.86 675.78,216.37"/>
<text class="z" x="409.25" y="281.9">出油口<tspan class="n ni">∅</tspan><tspan class="n" dx="1">40</tspan></text>
<polyline class="d" points="407.25,284.5 469.25,284.5 530.75,208"/>
<polygon class="a" points="531.05,207.7 529.08,212.54 526.75,210.66"/>
<text class="z" x="471.25" y="69.3" style="letter-spacing:.6px">压力调整</text>
<polyline class="d" points="467.25,71.6 518.25,71.6 555.75,122.5"/>
<polygon class="a" points="555.75,122.5 551.66,119.3 553.91,117.64"/>
<line class="d" x1="526.95" y1="96" x2="526.95" y2="170"/>
<polygon class="a" points="526.95,119.1 525.5,112.9 528.4,112.9"/>
<polygon class="a" points="526.95,145.6 528.4,151.8 525.5,151.8"/>
<line class="d" x1="528.25" y1="119.1" x2="554.25" y2="119.1"/>
<line class="d" x1="512.25" y1="145.6" x2="540.25" y2="145.6"/>
<text class="n" x="521.25" y="110" text-anchor="middle" transform="rotate(-90 521.25 110)"><tspan class="ni">∅</tspan>38</text>
<line class="d" x1="495.6" y1="132" x2="495.6" y2="208"/>
<polygon class="a" points="495.6,132 497.05,138.2 494.15,138.2"/>
<polygon class="a" points="495.6,208 494.15,201.8 497.05,201.8"/>
<text class="n" x="492.65" y="170" text-anchor="middle" transform="rotate(-90 492.65 170)">129</text>
<line class="d" x1="514" y1="137" x2="514" y2="208"/>
<polygon class="a" points="514,137 515.45,143.2 512.55,143.2"/>
<polygon class="a" points="514,208 512.55,201.8 515.45,201.8"/>
<text class="n" x="510.65" y="172.4" text-anchor="middle" transform="rotate(-90 510.65 172.4)">124</text>
<line class="d" x1="493.75" y1="132" x2="540.25" y2="132"/>
<line class="d" x1="512.25" y1="137" x2="540.25" y2="137"/>
<line class="d" x1="493.75" y1="208" x2="528.25" y2="208"/>
<line class="d" x1="544.4" y1="295" x2="660.6" y2="295"/>
<polygon class="a" points="544.4,295 550.6,293.55 550.6,296.45"/>
<polygon class="a" points="660.6,295 654.4,296.45 654.4,293.55"/>
<text class="n" x="602.45" y="291.2" text-anchor="middle">181</text>
<line class="d" x1="538.75" y1="308.1" x2="663.65" y2="308.1"/>
<polygon class="a" points="538.75,308.1 544.95,306.65 544.95,309.55"/>
<polygon class="a" points="663.65,308.1 657.45,309.55 657.45,306.65"/>
<text class="n" x="602.45" y="305.1" text-anchor="middle">210</text>
<line class="d" x1="524.55" y1="323.9" x2="679.25" y2="323.9"/>
<polygon class="a" points="524.55,323.9 530.75,322.45 530.75,325.35"/>
<polygon class="a" points="679.25,323.9 673.05,325.35 673.05,322.45"/>
<text class="n" x="602.45" y="321.2" text-anchor="middle">252</text>
<line class="d" x1="544.4" y1="238.5" x2="544.4" y2="297.5"/>
<line class="d" x1="660.6" y1="238.5" x2="660.6" y2="297.5"/>
<line class="d" x1="538.75" y1="232.5" x2="538.75" y2="310.5"/>
<line class="d" x1="663.65" y1="232.5" x2="663.65" y2="310.5"/>
<line class="d" x1="524.55" y1="232.5" x2="524.55" y2="326.5"/>
<line class="d" x1="679.25" y1="232.5" x2="679.25" y2="326.5"/>
<text class="n" x="493.25" y="338.2"><tspan class="ni">∅</tspan>161.9</text>
<polyline class="d" points="491.75,340 544.25,340 621.41,167.78"/>
<polygon class="a" points="621.41,167.78 620.43,173.4 617.71,172.12"/>
<polygon class="a" points="583.09,249.22 584.07,243.6 586.79,244.88"/>
</g>
<g class="sv" transform="translate(0 0)">
<path class="o" d="M143.5,205 V262.5 H161 M166,262.5 H182"/>
<line class="o" x1="143.5" y1="205" x2="154" y2="205"/>
<path class="o" d="M182,260.6 H200 M182,273.75 H200 V261"/>
<rect class="tw" x="161.2" y="256.5" width="4.8" height="16"/>
<line class="t" x1="160" y1="259.5" x2="167.2" y2="259.5"/>
<line class="t" x1="160" y1="263" x2="167.2" y2="263"/>
<line class="t" x1="160" y1="266.5" x2="167.2" y2="266.5"/>
<line class="t" x1="160" y1="270" x2="167.2" y2="270"/>
<path class="ow" d="M166.5,205 V157.5 H213"/>
<path class="o" d="M183.75,174.4 H213"/>
<rect class="ow" x="166.5" y="157.5" width="17.2" height="48"/>
<line class="c" x1="166.5" y1="166.6" x2="214" y2="166.6"/>
<path class="t" d="M168.1,170 V164.6 A1.7,1.7 0 0 1 171.5,164.6 V170"/>
<line class="hid" x1="169.8" y1="161" x2="169.8" y2="172"/>
<path class="t" d="M177.9,170 V164.6 A1.7,1.7 0 0 1 181.3,164.6 V170"/>
<line class="hid" x1="179.6" y1="161" x2="179.6" y2="172"/>
<path class="ow" d="M213,156.3 V177.4 H226 V156.3 Z"/>
<path class="ow" d="M213.6,156.3 C214,149.5 225.4,149.5 225.8,156.3"/>
<line class="t" x1="216.5" y1="157" x2="216.5" y2="177"/>
<rect class="ow" x="226" y="156.6" width="5.8" height="19.6"/>
<line class="t" x1="226" y1="161.5" x2="231.8" y2="161.5"/>
<line class="t" x1="226" y1="166.3" x2="231.8" y2="166.3"/>
<line class="t" x1="226" y1="171.2" x2="231.8" y2="171.2"/>
<rect class="ow" x="231.8" y="160" width="4.4" height="13"/>
<rect class="tw" x="236.2" y="164" width="5.5" height="6"/>
<line class="o" x1="182" y1="156" x2="182" y2="273.75"/>
<line class="t" x1="183.75" y1="174.4" x2="183.75" y2="273.75"/>
<path class="o" d="M200.6,175.6 H213 M213,177.5 H236.5 C239,177.8 239.5,180.2 242,180.3 H246.5 C249,180.2 249.5,177.8 252,177.5 H256.9"/>
<path class="o" d="M200.6,175.6 V183.75 H210 Q213.5,183 213.75,178"/>
<path class="o" d="M183.75,187 H200 M200,175.6 V196 Q200,200 203.75,200 H253.75 V251.25 H203.5 Q200,251.5 200,255.5 V273.75 M182,273.75 H200"/>
<path class="o" d="M200,265.6 H226.5 C228,269.5 230,270.6 233,270.6 H250 C252.6,270.4 254,268.5 255,265.6 H266"/>
<path class="o" d="M228.75,266 Q240.6,256.5 253,266"/>
<line class="k1" x1="232" y1="270.6" x2="250.5" y2="270.6"/>
<path class="o" d="M256.9,177.5 V265.6"/>
<line class="t" x1="260" y1="183" x2="260" y2="265.6"/>
<path class="o" d="M256.9,176 V171.2 H266 V176.2 L269.5,177 Q272.3,178 272.3,182 V191"/>
<line class="t" x1="259.5" y1="171.2" x2="259.5" y2="176"/>
<line class="hid" x1="263.5" y1="168" x2="263.5" y2="181"/>
<line class="t" x1="256.9" y1="250" x2="266" y2="250"/>
<line class="t" x1="256.9" y1="262.5" x2="267" y2="262.5"/>
<line class="t" x1="256.9" y1="198.5" x2="266" y2="198.5"/>
<line class="t" x1="256.9" y1="210" x2="266" y2="210"/>
<path class="ow" d="M266,191.5 Q266,190.5 267.2,190.5 H273 Q274.4,190.5 274.4,192 V266 Q274.4,267.6 273,267.6 H267.4 Q266,267.6 266,266 Z"/>
<line class="t" x1="269.2" y1="191" x2="269.2" y2="267.4"/>
<line class="t" x1="265" y1="196" x2="275.5" y2="196"/>
<line class="t" x1="265" y1="205.5" x2="275.5" y2="205.5"/>
<line class="t" x1="265" y1="208.5" x2="275.5" y2="208.5"/>
<line class="t" x1="265" y1="225" x2="275.5" y2="225"/>
<line class="t" x1="265" y1="235" x2="275.5" y2="235"/>
<line class="t" x1="265" y1="251" x2="275.5" y2="251"/>
<line class="t" x1="265" y1="254.5" x2="275.5" y2="254.5"/>
<line class="t" x1="265" y1="263" x2="275.5" y2="263"/>
<rect class="ow" x="274.4" y="197.5" width="5.6" height="65"/>
<path class="ow" d="M280,223 H309.4 V237.5 H280"/>
<circle class="ow" cx="226.9" cy="227.5" r="20.2"/>
<path class="t" d="M209.5,234 A18,18 0 0 0 244.3,234"/>
<path class="k1" d="M207.5,233 A20.2,20.2 0 0 0 246.3,233"/>
<circle class="ow" cx="211.9" cy="227.1" r="2.4"/>
<line class="t" x1="209.5" y1="221" x2="212.8" y2="232.5"/>
<circle class="t" cx="233.75" cy="214.4" r="1.6"/>
<line class="t" x1="231.25" y1="211.9" x2="236.25" y2="216.9"/>
<line class="t" x1="231.25" y1="216.9" x2="236.25" y2="211.9"/>
<circle class="t" cx="233.75" cy="239" r="1.6"/>
<line class="t" x1="231.25" y1="236.5" x2="236.25" y2="241.5"/>
<line class="t" x1="231.25" y1="241.5" x2="236.25" y2="236.5"/>
<path class="ow" d="M153.8,205 H174.4 Q177.3,205 178.3,207.7 L181.2,216.2 V239.6 L178.3,252 Q177.4,254.7 174.4,254.7 H153.8 Q150.8,254.7 149.8,252 L145.6,239.6 V216.2 L149.8,207.7 Q150.8,205 153.8,205 Z"/>
<circle class="ow" cx="156.9" cy="210.2" r="3.4"/>
<circle class="t" cx="156.9" cy="210.2" r="1.9"/>
<line class="t" x1="156.9" y1="204.7" x2="156.9" y2="206.8"/>
<line class="t" x1="156.9" y1="213.6" x2="156.9" y2="215.7"/>
<circle class="ow" cx="171.25" cy="210.2" r="3.4"/>
<circle class="t" cx="171.25" cy="210.2" r="1.9"/>
<line class="t" x1="171.25" y1="204.7" x2="171.25" y2="206.8"/>
<line class="t" x1="171.25" y1="213.6" x2="171.25" y2="215.7"/>
<circle class="ow" cx="156.9" cy="248.2" r="3.4"/>
<circle class="t" cx="156.9" cy="248.2" r="1.9"/>
<line class="t" x1="156.9" y1="242.7" x2="156.9" y2="244.8"/>
<line class="t" x1="156.9" y1="251.6" x2="156.9" y2="253.7"/>
<circle class="ow" cx="171.25" cy="248.2" r="3.4"/>
<circle class="t" cx="171.25" cy="248.2" r="1.9"/>
<line class="t" x1="171.25" y1="242.7" x2="171.25" y2="244.8"/>
<line class="t" x1="171.25" y1="251.6" x2="171.25" y2="253.7"/>
<circle class="ow" cx="163.75" cy="228.6" r="10.6"/>
<line class="hid" x1="163.75" y1="200" x2="163.75" y2="262"/>
<line class="c" x1="104" y1="227" x2="256" y2="227"/>
<line class="c" x1="140" y1="230" x2="318" y2="230"/>
<line class="hid" x1="226.9" y1="203" x2="226.9" y2="262"/>
<text class="n2" x="75.5" y="245.4">2-<tspan class="ni" dx="-1.2">∅</tspan><tspan dx="-0.8">40</tspan></text>
<line class="d" x1="76" y1="246.8" x2="100.5" y2="246.8"/>
<line class="d" x1="100.5" y1="246.8" x2="172.5" y2="226"/>
<polygon class="a" points="172.8,225.9 168.39,228.64 167.61,225.95"/>
<polygon class="a" points="154.3,231.3 157.79,228.95 158.5,231.45"/>
<line class="d" x1="115.3" y1="210.2" x2="115.3" y2="247.6"/>
<polygon class="a" points="115.3,210.2 116.75,216.4 113.85,216.4"/>
<polygon class="a" points="115.3,247.6 113.85,241.4 116.75,241.4"/>
<text class="ns" x="113.2" y="229" text-anchor="middle" transform="rotate(-90 113.2 229)">69.9</text>
<line class="d" x1="113.5" y1="210.2" x2="150" y2="210.2"/>
<line class="d" x1="113.5" y1="247.6" x2="150" y2="247.6"/>
<line class="d" x1="127.3" y1="214.5" x2="127.3" y2="241.5"/>
<polygon class="a" points="127.3,226.6 125.85,222.1 128.75,222.1"/>
<polygon class="a" points="127.3,230.4 128.75,234.9 125.85,234.9"/>
<text class="ns" x="125.2" y="229" text-anchor="middle" transform="rotate(-90 125.2 229)">8</text>
<text class="n" x="185.4" y="297" text-anchor="middle">35.7</text>
<line class="d" x1="148" y1="298.5" x2="195.5" y2="298.5"/>
<polygon class="a" points="149.3,298.5 155.5,297.05 155.5,299.95"/>
<polygon class="a" points="172.5,298.5 166.3,299.95 166.3,297.05"/>
<line class="d" x1="149.3" y1="258" x2="149.3" y2="301"/>
<line class="d" x1="172.5" y1="252" x2="172.5" y2="301"/>
<line class="d" x1="164" y1="311.3" x2="272.5" y2="311.3"/>
<polygon class="a" points="164,311.3 170.2,309.85 170.2,312.75"/>
<polygon class="a" points="272.5,311.3 266.3,312.75 266.3,309.85"/>
<text class="n" x="216.5" y="308.8" text-anchor="middle">247.5</text>
<line class="d" x1="142" y1="324.4" x2="272.5" y2="324.4"/>
<polygon class="a" points="142,324.4 148.2,322.95 148.2,325.85"/>
<polygon class="a" points="272.5,324.4 266.3,325.85 266.3,322.95"/>
<text class="n" x="211.5" y="322.4" text-anchor="middle">291</text>
<line class="d" x1="164" y1="257" x2="164" y2="314"/>
<line class="d" x1="142" y1="265" x2="142" y2="327"/>
<line class="d" x1="272.8" y1="268" x2="272.8" y2="327"/>
<text class="n" x="251.5" y="287.3" text-anchor="middle">18.5</text>
<line class="d" x1="246" y1="288.2" x2="280" y2="288.2"/>
<polygon class="a" points="266.5,288.2 260.3,289.65 260.3,286.75"/>
<polygon class="a" points="273,288.2 279.2,286.75 279.2,289.65"/>
<line class="d" x1="266.7" y1="268" x2="266.7" y2="290.5"/>
<text class="n" x="286" y="297.8" text-anchor="middle">70</text>
<line class="d" x1="240.6" y1="298.7" x2="293" y2="298.7"/>
<polygon class="a" points="240.6,298.7 246.8,297.25 246.8,300.15"/>
<polygon class="a" points="272.8,298.7 266.6,300.15 266.6,297.25"/>
<line class="d" x1="240.6" y1="258" x2="240.6" y2="301"/>
<text class="n" x="293.6" y="274.5" text-anchor="middle" transform="rotate(-90 293.6 274.5)"><tspan class="ni">∅</tspan>32</text>
<line class="d" x1="294.2" y1="252" x2="294.2" y2="286"/>
<polygon class="a" points="294.2,250.2 295.65,254.7 292.75,254.7"/>
<polygon class="a" points="294.2,266.3 295.65,270.8 292.75,270.8"/>
<line class="d" x1="276" y1="250.2" x2="300" y2="250.2"/>
<line class="d" x1="276" y1="266.3" x2="300" y2="266.3"/>
<text class="n" x="293.6" y="182.5" text-anchor="middle" transform="rotate(-90 293.6 182.5)"><tspan class="ni">∅</tspan>32</text>
<line class="d" x1="294.2" y1="165" x2="294.2" y2="210"/>
<polygon class="a" points="294.2,194.4 292.75,189.9 295.65,189.9"/>
<polygon class="a" points="294.2,210 292.75,205.5 295.65,205.5"/>
<line class="d" x1="257.5" y1="194.4" x2="297" y2="194.4"/>
<line class="d" x1="257.5" y1="210" x2="297" y2="210"/>
<line class="d" x1="281" y1="198.6" x2="378.5" y2="198.6"/>
<line class="d" x1="281" y1="262.5" x2="378.5" y2="262.5"/>
<line class="d" x1="375.8" y1="198.8" x2="375.8" y2="262.4"/>
<polygon class="a" points="375.8,198.8 377.25,205 374.35,205"/>
<polygon class="a" points="375.8,262.4 374.35,256.2 377.25,256.2"/>
<text class="n" x="372.5" y="232" text-anchor="middle" transform="rotate(-90 372.5 232)"><tspan class="ni">∅</tspan>127</text>
<line class="d" x1="309.4" y1="223" x2="357" y2="223"/>
<line class="d" x1="309.4" y1="237.5" x2="357" y2="237.5"/>
<line class="d" x1="337" y1="223" x2="337" y2="314"/>
<polygon class="a" points="337,223 338.45,227.5 335.55,227.5"/>
<polygon class="a" points="337,237.5 335.55,233 338.45,233"/>
<line class="d" x1="353" y1="223" x2="353" y2="310"/>
<polygon class="a" points="353,223 354.45,227.5 351.55,227.5"/>
<polygon class="a" points="353,237.5 351.55,233 354.45,233"/>
<text class="n" transform="translate(335.2 312.3) rotate(-90)"><tspan class="ni">∅</tspan>31.75<tspan class="tol" dx="0.3" dy="1">-0.05</tspan><tspan class="tol" dx="-15.5" dy="-5.8">0</tspan></text>
<text class="n" transform="translate(350.8 302.6) rotate(-90)">35.35<tspan class="tol" dx="0.3" dy="1">-0.2</tspan><tspan class="tol" dx="-11.5" dy="-5.8">0</tspan></text>
<line class="d" x1="272.6" y1="105" x2="272.6" y2="190"/>
<line class="t" x1="275" y1="107.5" x2="275" y2="190"/>
<line class="d" x1="308.9" y1="104" x2="308.9" y2="237.5"/>
<text class="n" x="291" y="107" text-anchor="middle">57</text>
<line class="d" x1="272.6" y1="107.8" x2="308.9" y2="107.8"/>
<polygon class="a" points="272.6,107.8 278.8,106.35 278.8,109.25"/>
<polygon class="a" points="308.9,107.8 302.7,109.25 302.7,106.35"/>
<text class="n" x="257.5" y="143" text-anchor="middle">70</text>
<line class="d" x1="241" y1="142.5" x2="272.6" y2="142.5"/>
<polygon class="a" points="241,142.5 247.2,141.05 247.2,143.95"/>
<polygon class="a" points="272.6,142.5 266.4,143.95 266.4,141.05"/>
<text class="n" x="287.5" y="152.2" text-anchor="middle">10</text>
<line class="d" x1="255" y1="152.6" x2="300" y2="152.6"/>
<polygon class="a" points="272.6,152.6 266.4,154.05 266.4,151.15"/>
<text class="z" x="331" y="101.3">注油口</text>
<polyline class="d" points="372,102.6 322,102.6 262,169.5"/>
<polygon class="a" points="261.8,169.8 264.09,165.14 266.18,167.01"/>
<rect class="d" x="332.5" y="137.4" width="6.4" height="6.4"/>
<text class="n" x="343" y="144.4">7.94</text>
<text class="tol" x="371.5" y="140.4">+0.030</text>
<text class="tol" x="371.5" y="146.6">+0.015</text>
<text class="n" x="396.5" y="144.6">X38</text>
<polyline class="d" points="406,149.3 330,149.3 295.3,222.6"/>
<circle class="a" cx="295.2" cy="223" r="1.4"/>
<line class="d" x1="289" y1="223.6" x2="297" y2="222.6"/>
<text class="z" x="178" y="93.5">泄油口PT3/4</text>
<polyline class="d" points="176,95.6 234,95.6 236.3,128 242.3,174"/>
<polygon class="a" points="242.4,174.6 240.44,169.82 243.01,169.47"/>
<line class="d" x1="241" y1="129" x2="241" y2="158"/>
<text class="n" x="254" y="126.5" text-anchor="middle">102</text>
<line class="d" x1="236" y1="127.6" x2="272.6" y2="127.6"/>
<polygon class="a" points="236,127.6 242.2,126.15 242.2,129.05"/>
<polygon class="a" points="272.6,127.6 266.4,129.05 266.4,126.15"/>
<line class="d" x1="236" y1="127.6" x2="236" y2="160"/>
<path class="o" d="M166.5,180 H160.5 V187 H145.5 V196 H160.5 V205"/>
<rect class="ow" x="145.5" y="179.5" width="15" height="16.5"/>
<rect class="ow" x="160.5" y="173" width="6" height="31.5"/>
<rect class="ow" x="135.4" y="182.3" width="10.1" height="11"/>
<line class="t" x1="135.4" y1="185.5" x2="145.5" y2="185.5"/>
<line class="t" x1="135.4" y1="190" x2="145.5" y2="190"/>
<line class="c" x1="131" y1="187.8" x2="166" y2="187.8"/>
<rect class="tw" x="162.5" y="197" width="4" height="8"/>
<text class="n" x="206" y="107" text-anchor="middle">304</text>
<line class="d" x1="134" y1="107.8" x2="272.6" y2="107.8"/>
<polygon class="a" points="134,107.8 140.2,106.35 140.2,109.25"/>
<polygon class="a" points="272.6,107.8 266.4,109.25 266.4,106.35"/>
<line class="d" x1="134" y1="105" x2="134" y2="186"/>
<line class="d" x1="104" y1="189" x2="104" y2="226.8"/>
<polygon class="a" points="104,189 105.45,195.2 102.55,195.2"/>
<polygon class="a" points="104,226.8 102.55,220.6 105.45,220.6"/>
<text class="n" x="101.6" y="207" text-anchor="middle" transform="rotate(-90 101.6 207)">75</text>
<line class="d" x1="102" y1="189" x2="139" y2="189"/>
<text class="z" x="63" y="109.5">锁紧螺帽</text>
<polyline class="d" points="58,111.4 105,111.4 143,184.5"/>
<polygon class="a" points="143.2,185 139.65,181.21 142.14,179.92"/>
<text class="z" x="53" y="141">流量调整</text>
<polyline class="d" points="50,143 95,143 136,190.5"/>
<polygon class="a" points="136.3,190.8 131.97,187.93 134.09,186.1"/>
<text class="z" x="24.3" y="137.6">减少</text>
<path class="rot" d="M30.5,133.5 A10.3,10.3 0 1 1 27,119.5"/>
<polygon class="a" points="33.5,124.8 27.5,122.91 29.67,119.8"/>
<text class="m" x="12.5" y="162.2">M12XP1.75 深20</text>
<path class="d" d="M12,163.6 H84 C110,168 135,185 152.5,207"/>
<polygon class="a" points="153.8,208.6 148.96,205.48 151.57,203.29"/>
<text class="z" x="140" y="137.5">控制阀</text>
<polyline class="d" points="137,139.4 180,139.4 196.5,158.5"/>
<polygon class="a" points="197,159 192.67,156.14 194.78,154.31"/>
</g>
<g class="sv" transform="translate(-0.5 327.5)">
<path class="o" d="M143.5,205 V262.5 H161 M166,262.5 H182"/>
<line class="o" x1="143.5" y1="205" x2="154" y2="205"/>
<path class="o" d="M182,260.6 H200 M182,273.75 H200 V261"/>
<rect class="tw" x="161.2" y="256.5" width="4.8" height="16"/>
<line class="t" x1="160" y1="259.5" x2="167.2" y2="259.5"/>
<line class="t" x1="160" y1="263" x2="167.2" y2="263"/>
<line class="t" x1="160" y1="266.5" x2="167.2" y2="266.5"/>
<line class="t" x1="160" y1="270" x2="167.2" y2="270"/>
<path class="ow" d="M166.5,205 V157.5 H213"/>
<path class="o" d="M183.75,174.4 H213"/>
<rect class="ow" x="166.5" y="157.5" width="17.2" height="48"/>
<line class="c" x1="166.5" y1="166.6" x2="214" y2="166.6"/>
<path class="t" d="M168.1,170 V164.6 A1.7,1.7 0 0 1 171.5,164.6 V170"/>
<line class="hid" x1="169.8" y1="161" x2="169.8" y2="172"/>
<path class="t" d="M177.9,170 V164.6 A1.7,1.7 0 0 1 181.3,164.6 V170"/>
<line class="hid" x1="179.6" y1="161" x2="179.6" y2="172"/>
<path class="ow" d="M213,156.3 V177.4 H226 V156.3 Z"/>
<path class="ow" d="M213.6,156.3 C214,149.5 225.4,149.5 225.8,156.3"/>
<line class="t" x1="216.5" y1="157" x2="216.5" y2="177"/>
<rect class="ow" x="226" y="156.6" width="5.8" height="19.6"/>
<line class="t" x1="226" y1="161.5" x2="231.8" y2="161.5"/>
<line class="t" x1="226" y1="166.3" x2="231.8" y2="166.3"/>
<line class="t" x1="226" y1="171.2" x2="231.8" y2="171.2"/>
<rect class="ow" x="231.8" y="160" width="4.4" height="13"/>
<rect class="tw" x="236.2" y="164" width="5.5" height="6"/>
<line class="o" x1="182" y1="156" x2="182" y2="273.75"/>
<line class="t" x1="183.75" y1="174.4" x2="183.75" y2="273.75"/>
<path class="o" d="M200.6,175.6 H213 M213,177.5 H236.5 C239,177.8 239.5,180.2 242,180.3 H246.5 C249,180.2 249.5,177.8 252,177.5 H256.9"/>
<path class="o" d="M200.6,175.6 V183.75 H210 Q213.5,183 213.75,178"/>
<path class="o" d="M183.75,187 H200 M200,175.6 V196 Q200,200 203.75,200 H253.75 V251.25 H203.5 Q200,251.5 200,255.5 V273.75 M182,273.75 H200"/>
<path class="o" d="M200,265.6 H226.5 C228,269.5 230,270.6 233,270.6 H250 C252.6,270.4 254,268.5 255,265.6 H266"/>
<path class="o" d="M228.75,266 Q240.6,256.5 253,266"/>
<line class="k1" x1="232" y1="270.6" x2="250.5" y2="270.6"/>
<path class="o" d="M256.9,177.5 V265.6"/>
<line class="t" x1="260" y1="183" x2="260" y2="265.6"/>
<path class="o" d="M256.9,176 V171.2 H266 V176.2 L269.5,177 Q272.3,178 272.3,182 V191"/>
<line class="t" x1="259.5" y1="171.2" x2="259.5" y2="176"/>
<line class="hid" x1="263.5" y1="168" x2="263.5" y2="181"/>
<line class="t" x1="256.9" y1="250" x2="266" y2="250"/>
<line class="t" x1="256.9" y1="262.5" x2="267" y2="262.5"/>
<line class="t" x1="256.9" y1="198.5" x2="266" y2="198.5"/>
<line class="t" x1="256.9" y1="210" x2="266" y2="210"/>
<path class="ow" d="M266,191.5 Q266,190.5 267.2,190.5 H273 Q274.4,190.5 274.4,192 V266 Q274.4,267.6 273,267.6 H267.4 Q266,267.6 266,266 Z"/>
<line class="t" x1="269.2" y1="191" x2="269.2" y2="267.4"/>
<line class="t" x1="265" y1="196" x2="275.5" y2="196"/>
<line class="t" x1="265" y1="205.5" x2="275.5" y2="205.5"/>
<line class="t" x1="265" y1="208.5" x2="275.5" y2="208.5"/>
<line class="t" x1="265" y1="225" x2="275.5" y2="225"/>
<line class="t" x1="265" y1="235" x2="275.5" y2="235"/>
<line class="t" x1="265" y1="251" x2="275.5" y2="251"/>
<line class="t" x1="265" y1="254.5" x2="275.5" y2="254.5"/>
<line class="t" x1="265" y1="263" x2="275.5" y2="263"/>
<rect class="ow" x="274.4" y="197.5" width="5.6" height="65"/>
<path class="ow" d="M280,223 H309.4 V237.5 H280"/>
<circle class="ow" cx="226.9" cy="227.5" r="20.2"/>
<path class="t" d="M209.5,234 A18,18 0 0 0 244.3,234"/>
<path class="k1" d="M207.5,233 A20.2,20.2 0 0 0 246.3,233"/>
<circle class="ow" cx="211.9" cy="227.1" r="2.4"/>
<line class="t" x1="209.5" y1="221" x2="212.8" y2="232.5"/>
<circle class="t" cx="233.75" cy="214.4" r="1.6"/>
<line class="t" x1="231.25" y1="211.9" x2="236.25" y2="216.9"/>
<line class="t" x1="231.25" y1="216.9" x2="236.25" y2="211.9"/>
<circle class="t" cx="233.75" cy="239" r="1.6"/>
<line class="t" x1="231.25" y1="236.5" x2="236.25" y2="241.5"/>
<line class="t" x1="231.25" y1="241.5" x2="236.25" y2="236.5"/>
<path class="ow" d="M153.8,205 H174.4 Q177.3,205 178.3,207.7 L181.2,216.2 V239.6 L178.3,252 Q177.4,254.7 174.4,254.7 H153.8 Q150.8,254.7 149.8,252 L145.6,239.6 V216.2 L149.8,207.7 Q150.8,205 153.8,205 Z"/>
<circle class="ow" cx="156.9" cy="210.2" r="3.4"/>
<circle class="t" cx="156.9" cy="210.2" r="1.9"/>
<line class="t" x1="156.9" y1="204.7" x2="156.9" y2="206.8"/>
<line class="t" x1="156.9" y1="213.6" x2="156.9" y2="215.7"/>
<circle class="ow" cx="171.25" cy="210.2" r="3.4"/>
<circle class="t" cx="171.25" cy="210.2" r="1.9"/>
<line class="t" x1="171.25" y1="204.7" x2="171.25" y2="206.8"/>
<line class="t" x1="171.25" y1="213.6" x2="171.25" y2="215.7"/>
<circle class="ow" cx="156.9" cy="248.2" r="3.4"/>
<circle class="t" cx="156.9" cy="248.2" r="1.9"/>
<line class="t" x1="156.9" y1="242.7" x2="156.9" y2="244.8"/>
<line class="t" x1="156.9" y1="251.6" x2="156.9" y2="253.7"/>
<circle class="ow" cx="171.25" cy="248.2" r="3.4"/>
<circle class="t" cx="171.25" cy="248.2" r="1.9"/>
<line class="t" x1="171.25" y1="242.7" x2="171.25" y2="244.8"/>
<line class="t" x1="171.25" y1="251.6" x2="171.25" y2="253.7"/>
<circle class="ow" cx="163.75" cy="228.6" r="10.6"/>
<line class="hid" x1="163.75" y1="200" x2="163.75" y2="262"/>
<line class="c" x1="104" y1="227" x2="256" y2="227"/>
<line class="c" x1="140" y1="230" x2="318" y2="230"/>
<line class="hid" x1="226.9" y1="203" x2="226.9" y2="262"/>
<text class="n2" x="75.5" y="245.4">2-<tspan class="ni" dx="-1.2">∅</tspan><tspan dx="-0.8">40</tspan></text>
<line class="d" x1="76" y1="246.8" x2="100.5" y2="246.8"/>
<line class="d" x1="100.5" y1="246.8" x2="172.5" y2="226"/>
<polygon class="a" points="172.8,225.9 168.39,228.64 167.61,225.95"/>
<polygon class="a" points="154.3,231.3 157.79,228.95 158.5,231.45"/>
<line class="d" x1="115.3" y1="210.2" x2="115.3" y2="247.6"/>
<polygon class="a" points="115.3,210.2 116.75,216.4 113.85,216.4"/>
<polygon class="a" points="115.3,247.6 113.85,241.4 116.75,241.4"/>
<text class="ns" x="113.2" y="229" text-anchor="middle" transform="rotate(-90 113.2 229)">69.9</text>
<line class="d" x1="113.5" y1="210.2" x2="150" y2="210.2"/>
<line class="d" x1="113.5" y1="247.6" x2="150" y2="247.6"/>
<line class="d" x1="127.3" y1="214.5" x2="127.3" y2="241.5"/>
<polygon class="a" points="127.3,226.6 125.85,222.1 128.75,222.1"/>
<polygon class="a" points="127.3,230.4 128.75,234.9 125.85,234.9"/>
<text class="ns" x="125.2" y="229" text-anchor="middle" transform="rotate(-90 125.2 229)">8</text>
<text class="n" x="185.4" y="297" text-anchor="middle">35.7</text>
<line class="d" x1="148" y1="298.5" x2="195.5" y2="298.5"/>
<polygon class="a" points="149.3,298.5 155.5,297.05 155.5,299.95"/>
<polygon class="a" points="172.5,298.5 166.3,299.95 166.3,297.05"/>
<line class="d" x1="149.3" y1="258" x2="149.3" y2="301"/>
<line class="d" x1="172.5" y1="252" x2="172.5" y2="301"/>
<line class="d" x1="164" y1="311.3" x2="272.5" y2="311.3"/>
<polygon class="a" points="164,311.3 170.2,309.85 170.2,312.75"/>
<polygon class="a" points="272.5,311.3 266.3,312.75 266.3,309.85"/>
<text class="n" x="216.5" y="308.8" text-anchor="middle">247.5</text>
<line class="d" x1="142" y1="324.4" x2="272.5" y2="324.4"/>
<polygon class="a" points="142,324.4 148.2,322.95 148.2,325.85"/>
<polygon class="a" points="272.5,324.4 266.3,325.85 266.3,322.95"/>
<text class="n" x="211.5" y="322.4" text-anchor="middle">291</text>
<line class="d" x1="164" y1="257" x2="164" y2="314"/>
<line class="d" x1="142" y1="265" x2="142" y2="327"/>
<line class="d" x1="272.8" y1="268" x2="272.8" y2="327"/>
<text class="n" x="251.5" y="287.3" text-anchor="middle">18.5</text>
<line class="d" x1="246" y1="288.2" x2="280" y2="288.2"/>
<polygon class="a" points="266.5,288.2 260.3,289.65 260.3,286.75"/>
<polygon class="a" points="273,288.2 279.2,286.75 279.2,289.65"/>
<line class="d" x1="266.7" y1="268" x2="266.7" y2="290.5"/>
<text class="n" x="286" y="297.8" text-anchor="middle">70</text>
<line class="d" x1="240.6" y1="298.7" x2="293" y2="298.7"/>
<polygon class="a" points="240.6,298.7 246.8,297.25 246.8,300.15"/>
<polygon class="a" points="272.8,298.7 266.6,300.15 266.6,297.25"/>
<line class="d" x1="240.6" y1="258" x2="240.6" y2="301"/>
<text class="n" x="293.6" y="274.5" text-anchor="middle" transform="rotate(-90 293.6 274.5)"><tspan class="ni">∅</tspan>32</text>
<line class="d" x1="294.2" y1="252" x2="294.2" y2="286"/>
<polygon class="a" points="294.2,250.2 295.65,254.7 292.75,254.7"/>
<polygon class="a" points="294.2,266.3 295.65,270.8 292.75,270.8"/>
<line class="d" x1="276" y1="250.2" x2="300" y2="250.2"/>
<line class="d" x1="276" y1="266.3" x2="300" y2="266.3"/>
<text class="n" x="293.6" y="182.5" text-anchor="middle" transform="rotate(-90 293.6 182.5)"><tspan class="ni">∅</tspan>32</text>
<line class="d" x1="294.2" y1="165" x2="294.2" y2="210"/>
<polygon class="a" points="294.2,194.4 292.75,189.9 295.65,189.9"/>
<polygon class="a" points="294.2,210 292.75,205.5 295.65,205.5"/>
<line class="d" x1="257.5" y1="194.4" x2="297" y2="194.4"/>
<line class="d" x1="257.5" y1="210" x2="297" y2="210"/>
<line class="d" x1="281" y1="198.6" x2="378.5" y2="198.6"/>
<line class="d" x1="281" y1="262.5" x2="378.5" y2="262.5"/>
<line class="d" x1="375.8" y1="198.8" x2="375.8" y2="262.4"/>
<polygon class="a" points="375.8,198.8 377.25,205 374.35,205"/>
<polygon class="a" points="375.8,262.4 374.35,256.2 377.25,256.2"/>
<text class="n" x="372.5" y="232" text-anchor="middle" transform="rotate(-90 372.5 232)"><tspan class="ni">∅</tspan>127</text>
<line class="d" x1="309.4" y1="223" x2="357" y2="223"/>
<line class="d" x1="309.4" y1="237.5" x2="357" y2="237.5"/>
<line class="d" x1="337" y1="223" x2="337" y2="314"/>
<polygon class="a" points="337,223 338.45,227.5 335.55,227.5"/>
<polygon class="a" points="337,237.5 335.55,233 338.45,233"/>
<line class="d" x1="353" y1="223" x2="353" y2="310"/>
<polygon class="a" points="353,223 354.45,227.5 351.55,227.5"/>
<polygon class="a" points="353,237.5 351.55,233 354.45,233"/>
<text class="n" transform="translate(335.2 312.3) rotate(-90)"><tspan class="ni">∅</tspan>31.75<tspan class="tol" dx="0.3" dy="1">-0.05</tspan><tspan class="tol" dx="-15.5" dy="-5.8">0</tspan></text>
<text class="n" transform="translate(350.8 302.6) rotate(-90)">35.35<tspan class="tol" dx="0.3" dy="1">-0.2</tspan><tspan class="tol" dx="-11.5" dy="-5.8">0</tspan></text>
<line class="d" x1="272.6" y1="105" x2="272.6" y2="190"/>
<line class="t" x1="275" y1="107.5" x2="275" y2="190"/>
<line class="d" x1="308.9" y1="104" x2="308.9" y2="237.5"/>
<text class="n" x="291" y="107" text-anchor="middle">57</text>
<line class="d" x1="272.6" y1="107.8" x2="308.9" y2="107.8"/>
<polygon class="a" points="272.6,107.8 278.8,106.35 278.8,109.25"/>
<polygon class="a" points="308.9,107.8 302.7,109.25 302.7,106.35"/>
<text class="n" x="257.5" y="143" text-anchor="middle">70</text>
<line class="d" x1="241" y1="142.5" x2="272.6" y2="142.5"/>
<polygon class="a" points="241,142.5 247.2,141.05 247.2,143.95"/>
<polygon class="a" points="272.6,142.5 266.4,143.95 266.4,141.05"/>
<text class="n" x="287.5" y="152.2" text-anchor="middle">10</text>
<line class="d" x1="255" y1="152.6" x2="300" y2="152.6"/>
<polygon class="a" points="272.6,152.6 266.4,154.05 266.4,151.15"/>
<text class="z" x="331" y="101.3">注油口</text>
<polyline class="d" points="372,102.6 322,102.6 262,169.5"/>
<polygon class="a" points="261.8,169.8 264.09,165.14 266.18,167.01"/>
<rect class="d" x="332.5" y="137.4" width="6.4" height="6.4"/>
<text class="n" x="343" y="144.4">7.94</text>
<text class="tol" x="371.5" y="140.4">+0.030</text>
<text class="tol" x="371.5" y="146.6">+0.015</text>
<text class="n" x="396.5" y="144.6">X38</text>
<polyline class="d" points="406,149.3 330,149.3 295.3,222.6"/>
<circle class="a" cx="295.2" cy="223" r="1.4"/>
<line class="d" x1="289" y1="223.6" x2="297" y2="222.6"/>
<text class="z" x="170.5" y="110.6">泄油口PT3/4</text>
<polyline class="d" points="168.5,112.6 228,112.6 237.5,150 242.3,174"/>
<polygon class="a" points="242.4,174.6 240.44,169.82 243.01,169.47"/>
<text class="n" x="254" y="126.5" text-anchor="middle">102</text>
<line class="d" x1="236" y1="127.6" x2="272.6" y2="127.6"/>
<polygon class="a" points="236,127.6 242.2,126.15 242.2,129.05"/>
<polygon class="a" points="272.6,127.6 266.4,129.05 266.4,126.15"/>
<line class="d" x1="236" y1="127.6" x2="236" y2="160"/>
<path class="o" d="M166.5,168.7 H84.2 V198.7"/>
<line class="hid" x1="20" y1="198.7" x2="166" y2="198.7"/>
<rect class="ow" x="77.5" y="158.5" width="6.7" height="31.5"/>
<rect class="ow" x="41.5" y="184.2" width="24" height="4"/>
<rect class="a" x="57.5" y="184.2" width="8" height="4"/>
<line class="d" x1="16" y1="168.2" x2="84" y2="168.2"/>
<text class="ns" x="123" y="139" text-anchor="middle">142</text>
<line class="d" x1="84.2" y1="140.8" x2="166.8" y2="140.8"/>
<polygon class="a" points="84.2,140.8 90.4,139.35 90.4,142.25"/>
<polygon class="a" points="166.8,140.8 160.6,142.25 160.6,139.35"/>
<line class="d" x1="84.2" y1="136" x2="84.2" y2="169"/>
<line class="d" x1="166.8" y1="138" x2="166.8" y2="206"/>
<text class="ns" x="64" y="147" text-anchor="middle">14</text>
<line class="d" x1="55" y1="150" x2="91.5" y2="150"/>
<polygon class="a" points="77.5,150 73,151.45 73,148.55"/>
<polygon class="a" points="84.2,150 88.7,148.55 88.7,151.45"/>
<line class="d" x1="77.5" y1="147" x2="77.5" y2="159"/>
<text class="ns" x="45.5" y="159" text-anchor="middle">30</text>
<line class="d" x1="35" y1="159.5" x2="84.2" y2="159.5"/>
<polygon class="a" points="65.8,159.5 61.3,160.95 61.3,158.05"/>
<polygon class="a" points="77.5,159.5 82,158.05 82,160.95"/>
<line class="d" x1="65.8" y1="157" x2="65.8" y2="185"/>
<line class="d" x1="17.3" y1="168.4" x2="17.3" y2="198.6"/>
<polygon class="a" points="17.3,168.4 18.75,174.6 15.85,174.6"/>
<polygon class="a" points="17.3,198.6 15.85,192.4 18.75,192.4"/>
<text class="ns" x="14.4" y="184" text-anchor="middle" transform="rotate(-90 14.4 184)"><tspan class="ni">∅</tspan>40</text>
<line class="d" x1="26.5" y1="174" x2="26.5" y2="195"/>
<polygon class="a" points="26.5,184.2 25.05,179.7 27.95,179.7"/>
<polygon class="a" points="26.5,188.2 27.95,192.7 25.05,192.7"/>
<text class="ns" x="24" y="212" text-anchor="middle" transform="rotate(-90 24 212)"><tspan class="ni">∅</tspan>10</text>
<line class="d" x1="41.5" y1="174" x2="41.5" y2="195"/>
<polygon class="a" points="41.5,184.2 40.05,179.7 42.95,179.7"/>
<polygon class="a" points="41.5,188.2 42.95,192.7 40.05,192.7"/>
<text class="ns" x="39.5" y="211" text-anchor="middle" transform="rotate(-90 39.5 211)">M8</text>
<line class="d" x1="24" y1="184.2" x2="66" y2="184.2"/>
<line class="d" x1="24" y1="188.2" x2="66" y2="188.2"/>
<line class="d" x1="58.4" y1="186.5" x2="58.4" y2="226.6"/>
<polygon class="a" points="58.4,186.5 59.85,192.7 56.95,192.7"/>
<polygon class="a" points="58.4,226.6 56.95,220.4 59.85,220.4"/>
<text class="ns" x="54.5" y="210" text-anchor="middle" transform="rotate(-90 54.5 210)">75</text>
<line class="d" x1="54" y1="226.9" x2="105" y2="226.9"/>
<text class="zss" x="202" y="141">控制阀</text>
<polyline class="d" points="225,142.4 200.5,142.4 195.2,157.3"/>
<polygon class="a" points="195,157.8 195.29,153.12 197.74,154"/>
<text class="m" x="9.8" y="288.6">M12XP1.75 深20</text>
<polyline class="d" points="8,292.3 82.5,292.3 154.5,250.8"/>
<polygon class="a" points="155.2,250.4 151.18,254.45 149.69,251.85"/>
</g>
<g class="sv" transform="translate(-3 675)">
<path class="o" d="M143.5,205 V262.5 H161 M166,262.5 H182"/>
<line class="o" x1="143.5" y1="205" x2="154" y2="205"/>
<path class="o" d="M182,260.6 H200 M182,273.75 H200 V261"/>
<rect class="tw" x="161.2" y="256.5" width="4.8" height="16"/>
<line class="t" x1="160" y1="259.5" x2="167.2" y2="259.5"/>
<line class="t" x1="160" y1="263" x2="167.2" y2="263"/>
<line class="t" x1="160" y1="266.5" x2="167.2" y2="266.5"/>
<line class="t" x1="160" y1="270" x2="167.2" y2="270"/>
<rect class="tw" x="160.2" y="145" width="5.3" height="25"/>
<rect class="ow" x="165.5" y="140" width="63.8" height="35" rx="3"/>
<line class="hid" x1="198" y1="139" x2="198" y2="157.5"/>
<rect class="ow" x="229.3" y="157.5" width="4.9" height="21.4"/>
<line class="t" x1="229.3" y1="163" x2="234.2" y2="163"/>
<line class="t" x1="229.3" y1="168" x2="234.2" y2="168"/>
<line class="t" x1="229.3" y1="173.5" x2="234.2" y2="173.5"/>
<rect class="ow" x="234.2" y="161" width="6" height="11.5"/>
<rect class="tw" x="167.1" y="161" width="3" height="6.5"/>
<line class="hid" x1="168.6" y1="158.5" x2="168.6" y2="172"/>
<line class="t" x1="166.4" y1="163" x2="170.8" y2="163"/>
<rect class="tw" x="177.3" y="161" width="3" height="6.5"/>
<line class="hid" x1="178.8" y1="158.5" x2="178.8" y2="172"/>
<line class="t" x1="176.6" y1="163" x2="181" y2="163"/>
<rect class="ow" x="164.3" y="167.5" width="18.9" height="38"/>
<path class="o" d="M183.4,182.5 H199.5 V187.5 H210.5 L213,182.5 V175"/>
<line class="o" x1="183.4" y1="175" x2="229" y2="175"/>
<line class="o" x1="182" y1="168" x2="182" y2="273.75"/>
<line class="t" x1="183.75" y1="174.4" x2="183.75" y2="273.75"/>
<path class="o" d="M200.6,175.6 H213 M213,177.5 H236.5 C239,177.8 239.5,180.2 242,180.3 H246.5 C249,180.2 249.5,177.8 252,177.5 H256.9"/>
<path class="o" d="M200.6,175.6 V183.75 H210 Q213.5,183 213.75,178"/>
<path class="o" d="M183.75,187 H200 M200,175.6 V196 Q200,200 203.75,200 H253.75 V251.25 H203.5 Q200,251.5 200,255.5 V273.75 M182,273.75 H200"/>
<path class="o" d="M200,265.6 H226.5 C228,269.5 230,270.6 233,270.6 H250 C252.6,270.4 254,268.5 255,265.6 H266"/>
<path class="o" d="M228.75,266 Q240.6,256.5 253,266"/>
<line class="k1" x1="232" y1="270.6" x2="250.5" y2="270.6"/>
<path class="o" d="M256.9,177.5 V265.6"/>
<line class="t" x1="260" y1="183" x2="260" y2="265.6"/>
<path class="o" d="M256.9,176 V171.2 H266 V176.2 L269.5,177 Q272.3,178 272.3,182 V191"/>
<line class="t" x1="259.5" y1="171.2" x2="259.5" y2="176"/>
<line class="hid" x1="263.5" y1="168" x2="263.5" y2="181"/>
<line class="t" x1="256.9" y1="250" x2="266" y2="250"/>
<line class="t" x1="256.9" y1="262.5" x2="267" y2="262.5"/>
<line class="t" x1="256.9" y1="198.5" x2="266" y2="198.5"/>
<line class="t" x1="256.9" y1="210" x2="266" y2="210"/>
<path class="ow" d="M266,191.5 Q266,190.5 267.2,190.5 H273 Q274.4,190.5 274.4,192 V266 Q274.4,267.6 273,267.6 H267.4 Q266,267.6 266,266 Z"/>
<line class="t" x1="269.2" y1="191" x2="269.2" y2="267.4"/>
<line class="t" x1="265" y1="196" x2="275.5" y2="196"/>
<line class="t" x1="265" y1="205.5" x2="275.5" y2="205.5"/>
<line class="t" x1="265" y1="208.5" x2="275.5" y2="208.5"/>
<line class="t" x1="265" y1="225" x2="275.5" y2="225"/>
<line class="t" x1="265" y1="235" x2="275.5" y2="235"/>
<line class="t" x1="265" y1="251" x2="275.5" y2="251"/>
<line class="t" x1="265" y1="254.5" x2="275.5" y2="254.5"/>
<line class="t" x1="265" y1="263" x2="275.5" y2="263"/>
<rect class="ow" x="274.4" y="197.5" width="5.6" height="65"/>
<path class="ow" d="M280,223 H309.4 V237.5 H280"/>
<circle class="ow" cx="226.9" cy="227.5" r="20.2"/>
<path class="t" d="M209.5,234 A18,18 0 0 0 244.3,234"/>
<path class="k1" d="M207.5,233 A20.2,20.2 0 0 0 246.3,233"/>
<circle class="ow" cx="211.9" cy="227.1" r="2.4"/>
<line class="t" x1="209.5" y1="221" x2="212.8" y2="232.5"/>
<circle class="t" cx="233.75" cy="214.4" r="1.6"/>
<line class="t" x1="231.25" y1="211.9" x2="236.25" y2="216.9"/>
<line class="t" x1="231.25" y1="216.9" x2="236.25" y2="211.9"/>
<circle class="t" cx="233.75" cy="239" r="1.6"/>
<line class="t" x1="231.25" y1="236.5" x2="236.25" y2="241.5"/>
<line class="t" x1="231.25" y1="241.5" x2="236.25" y2="236.5"/>
<path class="ow" d="M153.8,205 H174.4 Q177.3,205 178.3,207.7 L181.2,216.2 V239.6 L178.3,252 Q177.4,254.7 174.4,254.7 H153.8 Q150.8,254.7 149.8,252 L145.6,239.6 V216.2 L149.8,207.7 Q150.8,205 153.8,205 Z"/>
<circle class="ow" cx="156.9" cy="210.2" r="3.4"/>
<circle class="t" cx="156.9" cy="210.2" r="1.9"/>
<line class="t" x1="156.9" y1="204.7" x2="156.9" y2="206.8"/>
<line class="t" x1="156.9" y1="213.6" x2="156.9" y2="215.7"/>
<circle class="ow" cx="171.25" cy="210.2" r="3.4"/>
<circle class="t" cx="171.25" cy="210.2" r="1.9"/>
<line class="t" x1="171.25" y1="204.7" x2="171.25" y2="206.8"/>
<line class="t" x1="171.25" y1="213.6" x2="171.25" y2="215.7"/>
<circle class="ow" cx="156.9" cy="248.2" r="3.4"/>
<circle class="t" cx="156.9" cy="248.2" r="1.9"/>
<line class="t" x1="156.9" y1="242.7" x2="156.9" y2="244.8"/>
<line class="t" x1="156.9" y1="251.6" x2="156.9" y2="253.7"/>
<circle class="ow" cx="171.25" cy="248.2" r="3.4"/>
<circle class="t" cx="171.25" cy="248.2" r="1.9"/>
<line class="t" x1="171.25" y1="242.7" x2="171.25" y2="244.8"/>
<line class="t" x1="171.25" y1="251.6" x2="171.25" y2="253.7"/>
<circle class="ow" cx="163.75" cy="228.6" r="10.6"/>
<line class="hid" x1="163.75" y1="200" x2="163.75" y2="262"/>
<line class="c" x1="104" y1="227" x2="256" y2="227"/>
<line class="c" x1="140" y1="230" x2="318" y2="230"/>
<line class="hid" x1="226.9" y1="203" x2="226.9" y2="262"/>
<text class="n2" x="75.5" y="245.4">2-<tspan class="ni" dx="-1.2">∅</tspan><tspan dx="-0.8">40</tspan></text>
<line class="d" x1="76" y1="246.8" x2="100.5" y2="246.8"/>
<line class="d" x1="100.5" y1="246.8" x2="172.5" y2="226"/>
<polygon class="a" points="172.8,225.9 168.39,228.64 167.61,225.95"/>
<polygon class="a" points="154.3,231.3 157.79,228.95 158.5,231.45"/>
<line class="d" x1="115.3" y1="210.2" x2="115.3" y2="247.6"/>
<polygon class="a" points="115.3,210.2 116.75,216.4 113.85,216.4"/>
<polygon class="a" points="115.3,247.6 113.85,241.4 116.75,241.4"/>
<text class="ns" x="113.2" y="229" text-anchor="middle" transform="rotate(-90 113.2 229)">69.9</text>
<line class="d" x1="113.5" y1="210.2" x2="150" y2="210.2"/>
<line class="d" x1="113.5" y1="247.6" x2="150" y2="247.6"/>
<line class="d" x1="127.3" y1="214.5" x2="127.3" y2="241.5"/>
<polygon class="a" points="127.3,226.6 125.85,222.1 128.75,222.1"/>
<polygon class="a" points="127.3,230.4 128.75,234.9 125.85,234.9"/>
<text class="ns" x="125.2" y="229" text-anchor="middle" transform="rotate(-90 125.2 229)">8</text>
<text class="n" x="185.4" y="297" text-anchor="middle">35.7</text>
<line class="d" x1="148" y1="298.5" x2="195.5" y2="298.5"/>
<polygon class="a" points="149.3,298.5 155.5,297.05 155.5,299.95"/>
<polygon class="a" points="172.5,298.5 166.3,299.95 166.3,297.05"/>
<line class="d" x1="149.3" y1="258" x2="149.3" y2="301"/>
<line class="d" x1="172.5" y1="252" x2="172.5" y2="301"/>
<line class="d" x1="164" y1="311.3" x2="272.5" y2="311.3"/>
<polygon class="a" points="164,311.3 170.2,309.85 170.2,312.75"/>
<polygon class="a" points="272.5,311.3 266.3,312.75 266.3,309.85"/>
<text class="n" x="216.5" y="308.8" text-anchor="middle">247.5</text>
<line class="d" x1="142" y1="324.4" x2="272.5" y2="324.4"/>
<polygon class="a" points="142,324.4 148.2,322.95 148.2,325.85"/>
<polygon class="a" points="272.5,324.4 266.3,325.85 266.3,322.95"/>
<text class="n" x="211.5" y="322.4" text-anchor="middle">291</text>
<line class="d" x1="164" y1="257" x2="164" y2="314"/>
<line class="d" x1="142" y1="265" x2="142" y2="327"/>
<line class="d" x1="272.8" y1="268" x2="272.8" y2="327"/>
<text class="n" x="251.5" y="287.3" text-anchor="middle">18.5</text>
<line class="d" x1="246" y1="288.2" x2="280" y2="288.2"/>
<polygon class="a" points="266.5,288.2 260.3,289.65 260.3,286.75"/>
<polygon class="a" points="273,288.2 279.2,286.75 279.2,289.65"/>
<line class="d" x1="266.7" y1="268" x2="266.7" y2="290.5"/>
<text class="n" x="286" y="297.8" text-anchor="middle">70</text>
<line class="d" x1="240.6" y1="298.7" x2="293" y2="298.7"/>
<polygon class="a" points="240.6,298.7 246.8,297.25 246.8,300.15"/>
<polygon class="a" points="272.8,298.7 266.6,300.15 266.6,297.25"/>
<line class="d" x1="240.6" y1="258" x2="240.6" y2="301"/>
<text class="n" x="293.6" y="274.5" text-anchor="middle" transform="rotate(-90 293.6 274.5)"><tspan class="ni">∅</tspan>32</text>
<line class="d" x1="294.2" y1="252" x2="294.2" y2="286"/>
<polygon class="a" points="294.2,250.2 295.65,254.7 292.75,254.7"/>
<polygon class="a" points="294.2,266.3 295.65,270.8 292.75,270.8"/>
<line class="d" x1="276" y1="250.2" x2="300" y2="250.2"/>
<line class="d" x1="276" y1="266.3" x2="300" y2="266.3"/>
<text class="n" x="293.6" y="182.5" text-anchor="middle" transform="rotate(-90 293.6 182.5)"><tspan class="ni">∅</tspan>32</text>
<line class="d" x1="294.2" y1="165" x2="294.2" y2="210"/>
<polygon class="a" points="294.2,194.4 292.75,189.9 295.65,189.9"/>
<polygon class="a" points="294.2,210 292.75,205.5 295.65,205.5"/>
<line class="d" x1="257.5" y1="194.4" x2="297" y2="194.4"/>
<line class="d" x1="257.5" y1="210" x2="297" y2="210"/>
<line class="d" x1="281" y1="198.6" x2="378.5" y2="198.6"/>
<line class="d" x1="281" y1="262.5" x2="378.5" y2="262.5"/>
<line class="d" x1="375.8" y1="198.8" x2="375.8" y2="262.4"/>
<polygon class="a" points="375.8,198.8 377.25,205 374.35,205"/>
<polygon class="a" points="375.8,262.4 374.35,256.2 377.25,256.2"/>
<text class="n" x="372.5" y="232" text-anchor="middle" transform="rotate(-90 372.5 232)"><tspan class="ni">∅</tspan>127</text>
<line class="d" x1="309.4" y1="223" x2="357" y2="223"/>
<line class="d" x1="309.4" y1="237.5" x2="357" y2="237.5"/>
<line class="d" x1="337" y1="223" x2="337" y2="314"/>
<polygon class="a" points="337,223 338.45,227.5 335.55,227.5"/>
<polygon class="a" points="337,237.5 335.55,233 338.45,233"/>
<line class="d" x1="353" y1="223" x2="353" y2="310"/>
<polygon class="a" points="353,223 354.45,227.5 351.55,227.5"/>
<polygon class="a" points="353,237.5 351.55,233 354.45,233"/>
<text class="n" transform="translate(335.2 312.3) rotate(-90)"><tspan class="ni">∅</tspan>31.75<tspan class="tol" dx="0.3" dy="1">-0.05</tspan><tspan class="tol" dx="-15.5" dy="-5.8">0</tspan></text>
<text class="n" transform="translate(350.8 302.6) rotate(-90)">35.35<tspan class="tol" dx="0.3" dy="1">-0.2</tspan><tspan class="tol" dx="-11.5" dy="-5.8">0</tspan></text>
<line class="d" x1="272.6" y1="105" x2="272.6" y2="190"/>
<line class="t" x1="275" y1="107.5" x2="275" y2="190"/>
<line class="d" x1="308.9" y1="104" x2="308.9" y2="237.5"/>
<text class="n" x="291" y="107" text-anchor="middle">57</text>
<line class="d" x1="272.6" y1="107.8" x2="308.9" y2="107.8"/>
<polygon class="a" points="272.6,107.8 278.8,106.35 278.8,109.25"/>
<polygon class="a" points="308.9,107.8 302.7,109.25 302.7,106.35"/>
<text class="n" x="257.5" y="143" text-anchor="middle">70</text>
<line class="d" x1="241" y1="142.5" x2="272.6" y2="142.5"/>
<polygon class="a" points="241,142.5 247.2,141.05 247.2,143.95"/>
<polygon class="a" points="272.6,142.5 266.4,143.95 266.4,141.05"/>
<text class="n" x="287.5" y="152.2" text-anchor="middle">10</text>
<line class="d" x1="255" y1="152.6" x2="300" y2="152.6"/>
<polygon class="a" points="272.6,152.6 266.4,154.05 266.4,151.15"/>
<text class="z" x="331" y="101.3">注油口</text>
<polyline class="d" points="372,102.6 322,102.6 262,169.5"/>
<polygon class="a" points="261.8,169.8 264.09,165.14 266.18,167.01"/>
<rect class="d" x="332.5" y="137.4" width="6.4" height="6.4"/>
<text class="n" x="343" y="144.4">7.94</text>
<text class="tol" x="371.5" y="140.4">+0.030</text>
<text class="tol" x="371.5" y="146.6">+0.015</text>
<text class="n" x="396.5" y="144.6">X38</text>
<polyline class="d" points="406,149.3 330,149.3 295.3,222.6"/>
<circle class="a" cx="295.2" cy="223" r="1.4"/>
<line class="d" x1="289" y1="223.6" x2="297" y2="222.6"/>
<text class="z" x="178" y="93.5">泄油口PT3/4</text>
<polyline class="d" points="176,95.6 234,95.6 239.3,132 241.5,174"/>
<polygon class="a" points="241.6,174.6 240.07,169.66 242.67,169.55"/>
<text class="n" x="257.4" y="130.8" text-anchor="middle">MIN 93</text>
<line class="d" x1="239.3" y1="132.5" x2="272.6" y2="132.5"/>
<polygon class="a" points="239.3,132.5 245.5,131.05 245.5,133.95"/>
<polygon class="a" points="272.6,132.5 266.4,133.95 266.4,131.05"/>
<path class="o" d="M164,180 H160.5 V187 H145.5 V196 H160.5 V205"/>
<rect class="ow" x="145.5" y="179.5" width="15" height="16.5"/>
<rect class="ow" x="155.5" y="172.5" width="8.8" height="26"/>
<rect class="ow" x="135.4" y="182.3" width="10.1" height="11"/>
<line class="t" x1="135.4" y1="185.5" x2="145.5" y2="185.5"/>
<line class="t" x1="135.4" y1="190" x2="145.5" y2="190"/>
<line class="c" x1="131" y1="187.8" x2="166" y2="187.8"/>
<rect class="tw" x="162.5" y="197" width="4" height="8"/>
<text class="n" x="206" y="107" text-anchor="middle">304</text>
<line class="d" x1="134" y1="107.8" x2="272.6" y2="107.8"/>
<polygon class="a" points="134,107.8 140.2,106.35 140.2,109.25"/>
<polygon class="a" points="272.6,107.8 266.4,109.25 266.4,106.35"/>
<line class="d" x1="134" y1="105" x2="134" y2="186"/>
<line class="d" x1="104" y1="189" x2="104" y2="226.8"/>
<polygon class="a" points="104,189 105.45,195.2 102.55,195.2"/>
<polygon class="a" points="104,226.8 102.55,220.6 105.45,220.6"/>
<text class="n" x="101.6" y="207" text-anchor="middle" transform="rotate(-90 101.6 207)">75</text>
<line class="d" x1="102" y1="189" x2="139" y2="189"/>
<text class="z" x="60.5" y="110.7">锁紧螺帽</text>
<polyline class="d" points="58,113 104,113 143,184.5"/>
<polygon class="a" points="143.2,185 139.58,181.28 142.04,179.94"/>
<text class="z" x="51.5" y="141.6">流量调整</text>
<polyline class="d" points="50,143 95,143 136,190.5"/>
<polygon class="a" points="136.3,190.8 131.97,187.93 134.09,186.1"/>
<text class="z" x="22.5" y="137.6">减少</text>
<path class="rot" d="M30.5,133.5 A10.3,10.3 0 1 1 27,119.5"/>
<polygon class="a" points="33.5,124.8 27.5,122.91 29.67,119.8"/>
<text class="m" x="12.5" y="162.2">M12XP1.75 深20</text>
<path class="d" d="M12,163.6 H84 C110,168 135,185 152.5,207"/>
<polygon class="a" points="153.8,208.6 148.96,205.48 151.57,203.29"/>
<text class="z" x="145.5" y="121">控制口</text>
<polyline class="d" points="141.5,122.2 178,122.2 196.8,141"/>
<polygon class="a" points="197,141.3 193.33,139.31 195.03,137.62"/>
</g>
<text class="wm" x="102.5" y="100.5" text-anchor="middle" transform="rotate(-42.7 102.5 100.5)">CCLair</text>
<text class="wm" x="375" y="98" text-anchor="middle" transform="rotate(-42.7 375 98)">CCLair</text>
<text class="wm" x="647.5" y="98" text-anchor="middle" transform="rotate(-42.7 647.5 98)">CCLair</text>
<text class="wm" x="102.5" y="372" text-anchor="middle" transform="rotate(-42.7 102.5 372)">CCLair</text>
<text class="wm" x="375" y="369.5" text-anchor="middle" transform="rotate(-42.7 375 369.5)">CCLair</text>
<text class="wm" x="647.5" y="369.5" text-anchor="middle" transform="rotate(-42.7 647.5 369.5)">CCLair</text>
<text class="wm" x="102.5" y="644.5" text-anchor="middle" transform="rotate(-42.7 102.5 644.5)">CCLair</text>
<text class="wm" x="375" y="642" text-anchor="middle" transform="rotate(-42.7 375 642)">CCLair</text>
<text class="wm" x="647.5" y="642" text-anchor="middle" transform="rotate(-42.7 647.5 642)">CCLair</text>
<text class="wm" x="102.5" y="917.5" text-anchor="middle" transform="rotate(-42.7 102.5 917.5)">CCLair</text>
<text class="wm" x="375" y="915" text-anchor="middle" transform="rotate(-42.7 375 915)">CCLair</text>
<text class="wm" x="647.5" y="915" text-anchor="middle" transform="rotate(-42.7 647.5 915)">CCLair</text>
</svg>
</body></html>
